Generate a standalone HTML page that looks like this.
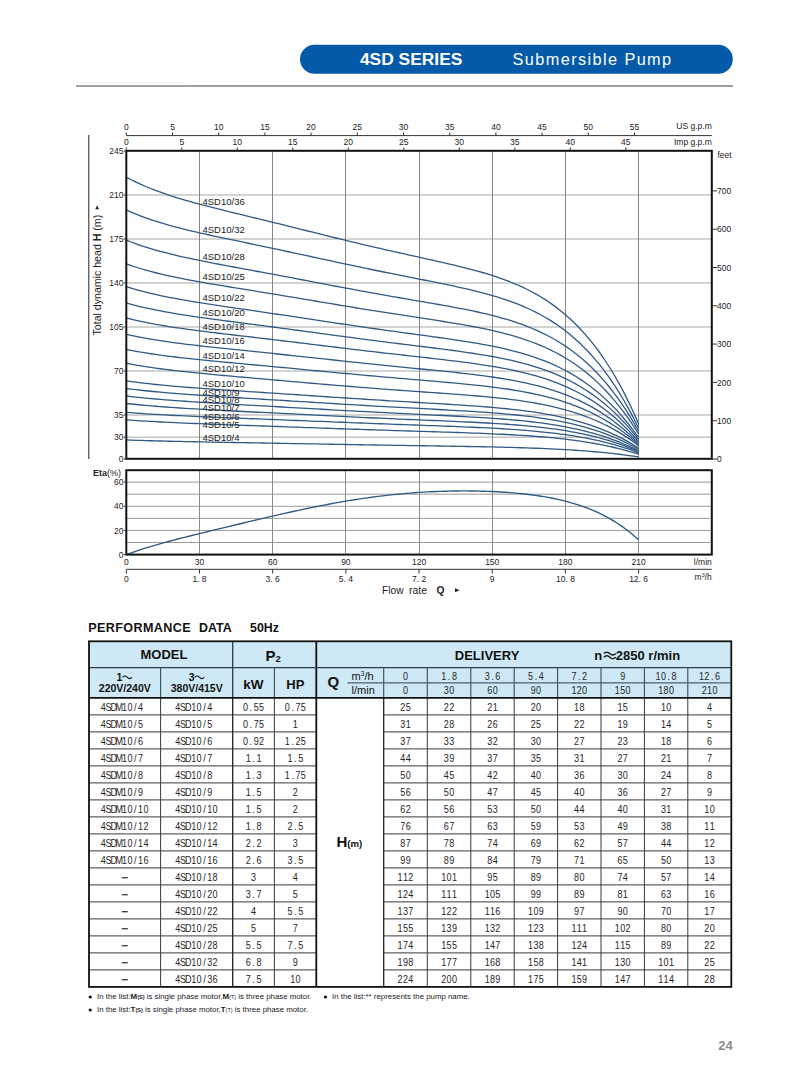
<!DOCTYPE html>
<html><head><meta charset="utf-8"><title>4SD Series</title>
<style>
html,body{margin:0;padding:0;background:#fff;}
body{width:805px;height:1080px;overflow:hidden;position:relative;font-family:"Liberation Sans", sans-serif;}
svg{position:absolute;left:0;top:0;}
svg text{font-family:"Liberation Sans", sans-serif;}
.m{font-family:"Liberation Mono", monospace;}
</style></head><body>
<svg width="805" height="1080" viewBox="0 0 805 1080">

<rect x="300" y="44.8" width="432.8" height="29" rx="14.5" ry="14.5" fill="#0559a9"/>
<text x="359.9" y="65.4" font-size="17.4" font-weight="bold" fill="#fff">4SD SERIES</text>
<text x="512.6" y="65.2" font-size="16.3" letter-spacing="1.4" fill="#fff">Submersible Pump</text>
<rect x="76" y="85" width="657" height="2" fill="#a0a0a0"/>
<line x1="73" y1="82.5" x2="185" y2="82.5" stroke="#f2f2f2" stroke-width="1"/>
<line x1="88.8" y1="135" x2="88.8" y2="459" stroke="#222" stroke-width="1"/>
<line x1="126.3" y1="195.0" x2="711.8" y2="195.0" stroke="#c4c4c4" stroke-width="1.4"/>
<line x1="126.3" y1="239.0" x2="711.8" y2="239.0" stroke="#c4c4c4" stroke-width="1.4"/>
<line x1="126.3" y1="283.0" x2="711.8" y2="283.0" stroke="#c4c4c4" stroke-width="1.4"/>
<line x1="126.3" y1="327.0" x2="711.8" y2="327.0" stroke="#c4c4c4" stroke-width="1.4"/>
<line x1="126.3" y1="371.0" x2="711.8" y2="371.0" stroke="#c4c4c4" stroke-width="1.4"/>
<line x1="126.3" y1="415.0" x2="711.8" y2="415.0" stroke="#c4c4c4" stroke-width="1.4"/>
<line x1="126.3" y1="437.2" x2="711.8" y2="437.2" stroke="#c4c4c4" stroke-width="1.4"/>
<line x1="199.50" y1="150.8" x2="199.50" y2="458.8" stroke="#858585" stroke-width="1"/>
<line x1="272.50" y1="150.8" x2="272.50" y2="458.8" stroke="#858585" stroke-width="1"/>
<line x1="345.50" y1="150.8" x2="345.50" y2="458.8" stroke="#858585" stroke-width="1"/>
<line x1="419.50" y1="150.8" x2="419.50" y2="458.8" stroke="#858585" stroke-width="1"/>
<line x1="492.50" y1="150.8" x2="492.50" y2="458.8" stroke="#858585" stroke-width="1"/>
<line x1="565.50" y1="150.8" x2="565.50" y2="458.8" stroke="#858585" stroke-width="1"/>
<line x1="638.50" y1="150.8" x2="638.50" y2="458.8" stroke="#858585" stroke-width="1"/>
<path d="M126.30,177.20 L131.18,179.74 L136.06,182.13 L140.94,184.38 L145.82,186.50 L150.70,188.49 L155.57,190.39 L160.45,192.18 L165.33,193.89 L170.21,195.52 L175.09,197.08 L179.97,198.58 L184.85,200.03 L189.73,201.43 L194.61,202.78 L199.49,204.11 L204.36,205.40 L209.24,206.67 L214.12,207.91 L219.00,209.14 L223.88,210.36 L228.76,211.56 L233.64,212.76 L238.52,213.96 L243.40,215.15 L248.28,216.33 L253.16,217.52 L258.03,218.71 L262.91,219.90 L267.79,221.10 L272.67,222.29 L277.55,223.49 L282.43,224.70 L287.31,225.90 L292.19,227.11 L297.07,228.32 L301.95,229.54 L306.82,230.75 L311.70,231.96 L316.58,233.17 L321.46,234.38 L326.34,235.59 L331.22,236.80 L336.10,238.00 L340.98,239.19 L345.86,240.38 L350.74,241.56 L355.62,242.73 L360.49,243.90 L365.37,245.06 L370.25,246.20 L375.13,247.34 L380.01,248.47 L384.89,249.59 L389.77,250.70 L394.65,251.80 L399.53,252.89 L404.41,253.98 L409.28,255.06 L414.16,256.14 L419.04,257.21 L423.92,258.29 L428.80,259.37 L433.68,260.45 L438.56,261.54 L443.44,262.65 L448.32,263.77 L453.20,264.91 L458.08,266.08 L462.95,267.28 L467.83,268.51 L472.71,269.79 L477.59,271.12 L482.47,272.50 L487.35,273.96 L492.23,275.48 L497.11,277.09 L501.99,278.78 L506.87,280.58 L511.74,282.50 L516.62,284.53 L521.50,286.71 L526.38,289.03 L531.26,291.51 L536.14,294.17 L541.02,297.02 L545.90,300.08 L550.78,303.36 L555.66,306.88 L560.54,310.65 L565.41,314.70 L570.29,319.05 L575.17,323.71 L580.05,328.71 L584.93,334.06 L589.81,339.79 L594.69,345.93 L599.57,352.50 L604.45,359.52 L609.33,367.02 L614.20,375.02 L619.08,383.56 L623.96,392.66 L628.84,402.36 L633.72,412.68 L638.60,423.66" fill="none" stroke="#2f5a86" stroke-width="1.3"/>
<path d="M126.30,209.89 L131.18,212.07 L136.06,214.12 L140.94,216.04 L145.82,217.85 L150.70,219.56 L155.57,221.17 L160.45,222.70 L165.33,224.15 L170.21,225.54 L175.09,226.87 L179.97,228.14 L184.85,229.37 L189.73,230.56 L194.61,231.71 L199.49,232.83 L204.36,233.93 L209.24,235.00 L214.12,236.06 L219.00,237.11 L223.88,238.14 L228.76,239.17 L233.64,240.19 L238.52,241.21 L243.40,242.23 L248.28,243.25 L253.16,244.27 L258.03,245.29 L262.91,246.31 L267.79,247.34 L272.67,248.37 L277.55,249.40 L282.43,250.44 L287.31,251.49 L292.19,252.53 L297.07,253.58 L301.95,254.64 L306.82,255.69 L311.70,256.75 L316.58,257.80 L321.46,258.86 L326.34,259.91 L331.22,260.97 L336.10,262.02 L340.98,263.07 L345.86,264.11 L350.74,265.15 L355.62,266.18 L360.49,267.21 L365.37,268.23 L370.25,269.24 L375.13,270.25 L380.01,271.25 L384.89,272.24 L389.77,273.23 L394.65,274.21 L399.53,275.18 L404.41,276.15 L409.28,277.11 L414.16,278.08 L419.04,279.04 L423.92,280.01 L428.80,280.97 L433.68,281.95 L438.56,282.93 L443.44,283.93 L448.32,284.94 L453.20,285.97 L458.08,287.03 L462.95,288.11 L467.83,289.23 L472.71,290.39 L477.59,291.59 L482.47,292.84 L487.35,294.16 L492.23,295.54 L497.11,296.99 L501.99,298.53 L506.87,300.15 L511.74,301.88 L516.62,303.72 L521.50,305.68 L526.38,307.78 L531.26,310.02 L536.14,312.41 L541.02,314.98 L545.90,317.73 L550.78,320.67 L555.66,323.83 L560.54,327.22 L565.41,330.85 L570.29,334.75 L575.17,338.92 L580.05,343.40 L584.93,348.19 L589.81,353.31 L594.69,358.80 L599.57,364.66 L604.45,370.93 L609.33,377.62 L614.20,384.76 L619.08,392.38 L623.96,400.49 L628.84,409.13 L633.72,418.33 L638.60,428.10" fill="none" stroke="#2f5a86" stroke-width="1.3"/>
<path d="M126.30,240.06 L131.18,241.99 L136.06,243.81 L140.94,245.52 L145.82,247.13 L150.70,248.64 L155.57,250.08 L160.45,251.44 L165.33,252.73 L170.21,253.96 L175.09,255.14 L179.97,256.28 L184.85,257.37 L189.73,258.42 L194.61,259.45 L199.49,260.45 L204.36,261.42 L209.24,262.38 L214.12,263.32 L219.00,264.25 L223.88,265.17 L228.76,266.08 L233.64,266.99 L238.52,267.89 L243.40,268.79 L248.28,269.69 L253.16,270.59 L258.03,271.50 L262.91,272.40 L267.79,273.31 L272.67,274.22 L277.55,275.14 L282.43,276.05 L287.31,276.97 L292.19,277.90 L297.07,278.82 L301.95,279.75 L306.82,280.68 L311.70,281.61 L316.58,282.54 L321.46,283.46 L326.34,284.39 L331.22,285.32 L336.10,286.24 L340.98,287.16 L345.86,288.07 L350.74,288.98 L355.62,289.89 L360.49,290.79 L365.37,291.68 L370.25,292.57 L375.13,293.45 L380.01,294.32 L384.89,295.18 L389.77,296.05 L394.65,296.90 L399.53,297.75 L404.41,298.59 L409.28,299.43 L414.16,300.27 L419.04,301.11 L423.92,301.95 L428.80,302.79 L433.68,303.63 L438.56,304.49 L443.44,305.35 L448.32,306.23 L453.20,307.12 L458.08,308.04 L462.95,308.98 L467.83,309.95 L472.71,310.95 L477.59,311.99 L482.47,313.08 L487.35,314.22 L492.23,315.42 L497.11,316.68 L501.99,318.01 L506.87,319.42 L511.74,320.93 L516.62,322.52 L521.50,324.23 L526.38,326.05 L531.26,328.00 L536.14,330.08 L541.02,332.32 L545.90,334.71 L550.78,337.28 L555.66,340.03 L560.54,342.99 L565.41,346.16 L570.29,349.56 L575.17,353.20 L580.05,357.11 L584.93,361.30 L589.81,365.78 L594.69,370.57 L599.57,375.70 L604.45,381.18 L609.33,387.03 L614.20,393.28 L619.08,399.95 L623.96,407.05 L628.84,414.61 L633.72,422.67 L638.60,431.23" fill="none" stroke="#2f5a86" stroke-width="1.3"/>
<path d="M126.30,263.94 L131.18,265.65 L136.06,267.25 L140.94,268.75 L145.82,270.16 L150.70,271.49 L155.57,272.75 L160.45,273.94 L165.33,275.08 L170.21,276.16 L175.09,277.19 L179.97,278.18 L184.85,279.14 L189.73,280.06 L194.61,280.96 L199.49,281.83 L204.36,282.69 L209.24,283.52 L214.12,284.35 L219.00,285.16 L223.88,285.97 L228.76,286.76 L233.64,287.56 L238.52,288.35 L243.40,289.14 L248.28,289.93 L253.16,290.72 L258.03,291.52 L262.91,292.31 L267.79,293.11 L272.67,293.91 L277.55,294.72 L282.43,295.52 L287.31,296.33 L292.19,297.15 L297.07,297.96 L301.95,298.78 L306.82,299.60 L311.70,300.42 L316.58,301.24 L321.46,302.06 L326.34,302.88 L331.22,303.70 L336.10,304.51 L340.98,305.32 L345.86,306.13 L350.74,306.94 L355.62,307.74 L360.49,308.54 L365.37,309.33 L370.25,310.12 L375.13,310.90 L380.01,311.67 L384.89,312.44 L389.77,313.20 L394.65,313.96 L399.53,314.72 L404.41,315.47 L409.28,316.22 L414.16,316.96 L419.04,317.71 L423.92,318.46 L428.80,319.21 L433.68,319.96 L438.56,320.72 L443.44,321.49 L448.32,322.28 L453.20,323.07 L458.08,323.89 L462.95,324.73 L467.83,325.60 L472.71,326.50 L477.59,327.43 L482.47,328.40 L487.35,329.42 L492.23,330.49 L497.11,331.62 L501.99,332.82 L506.87,334.08 L511.74,335.42 L516.62,336.86 L521.50,338.38 L526.38,340.01 L531.26,341.75 L536.14,343.62 L541.02,345.62 L545.90,347.76 L550.78,350.06 L555.66,352.52 L560.54,355.16 L565.41,358.00 L570.29,361.04 L575.17,364.29 L580.05,367.79 L584.93,371.52 L589.81,375.53 L594.69,379.81 L599.57,384.39 L604.45,389.29 L609.33,394.52 L614.20,400.10 L619.08,406.05 L623.96,412.39 L628.84,419.14 L633.72,426.33 L638.60,433.97" fill="none" stroke="#2f5a86" stroke-width="1.3"/>
<path d="M126.30,286.57 L131.18,288.10 L136.06,289.53 L140.94,290.87 L145.82,292.14 L150.70,293.34 L155.57,294.47 L160.45,295.54 L165.33,296.56 L170.21,297.53 L175.09,298.46 L179.97,299.35 L184.85,300.21 L189.73,301.05 L194.61,301.85 L199.49,302.64 L204.36,303.41 L209.24,304.17 L214.12,304.91 L219.00,305.64 L223.88,306.37 L228.76,307.09 L233.64,307.80 L238.52,308.52 L243.40,309.23 L248.28,309.94 L253.16,310.65 L258.03,311.37 L262.91,312.08 L267.79,312.80 L272.67,313.52 L277.55,314.25 L282.43,314.97 L287.31,315.70 L292.19,316.43 L297.07,317.16 L301.95,317.89 L306.82,318.63 L311.70,319.36 L316.58,320.10 L321.46,320.83 L326.34,321.57 L331.22,322.30 L336.10,323.03 L340.98,323.76 L345.86,324.48 L350.74,325.20 L355.62,325.92 L360.49,326.63 L365.37,327.34 L370.25,328.04 L375.13,328.74 L380.01,329.43 L384.89,330.12 L389.77,330.80 L394.65,331.48 L399.53,332.15 L404.41,332.82 L409.28,333.49 L414.16,334.15 L419.04,334.82 L423.92,335.48 L428.80,336.15 L433.68,336.82 L438.56,337.50 L443.44,338.18 L448.32,338.88 L453.20,339.59 L458.08,340.32 L462.95,341.06 L467.83,341.83 L472.71,342.63 L477.59,343.45 L482.47,344.32 L487.35,345.22 L492.23,346.17 L497.11,347.17 L501.99,348.22 L506.87,349.34 L511.74,350.53 L516.62,351.80 L521.50,353.15 L526.38,354.59 L531.26,356.13 L536.14,357.78 L541.02,359.54 L545.90,361.44 L550.78,363.47 L555.66,365.64 L560.54,367.98 L565.41,370.48 L570.29,373.17 L575.17,376.04 L580.05,379.13 L584.93,382.43 L589.81,385.96 L594.69,389.75 L599.57,393.79 L604.45,398.12 L609.33,402.74 L614.20,407.66 L619.08,412.92 L623.96,418.52 L628.84,424.49 L633.72,430.83 L638.60,437.58" fill="none" stroke="#2f5a86" stroke-width="1.3"/>
<path d="M126.30,302.91 L131.18,304.28 L136.06,305.56 L140.94,306.77 L145.82,307.90 L150.70,308.97 L155.57,309.98 L160.45,310.93 L165.33,311.84 L170.21,312.71 L175.09,313.54 L179.97,314.34 L184.85,315.11 L189.73,315.85 L194.61,316.57 L199.49,317.27 L204.36,317.96 L209.24,318.63 L214.12,319.29 L219.00,319.95 L223.88,320.59 L228.76,321.24 L233.64,321.87 L238.52,322.51 L243.40,323.15 L248.28,323.78 L253.16,324.42 L258.03,325.06 L262.91,325.70 L267.79,326.34 L272.67,326.99 L277.55,327.63 L282.43,328.28 L287.31,328.94 L292.19,329.59 L297.07,330.25 L301.95,330.91 L306.82,331.57 L311.70,332.23 L316.58,332.89 L321.46,333.55 L326.34,334.21 L331.22,334.87 L336.10,335.52 L340.98,336.18 L345.86,336.83 L350.74,337.48 L355.62,338.13 L360.49,338.77 L365.37,339.41 L370.25,340.04 L375.13,340.67 L380.01,341.30 L384.89,341.92 L389.77,342.53 L394.65,343.15 L399.53,343.76 L404.41,344.36 L409.28,344.97 L414.16,345.57 L419.04,346.17 L423.92,346.77 L428.80,347.38 L433.68,347.99 L438.56,348.60 L443.44,349.23 L448.32,349.86 L453.20,350.50 L458.08,351.16 L462.95,351.84 L467.83,352.54 L472.71,353.26 L477.59,354.02 L482.47,354.80 L487.35,355.62 L492.23,356.49 L497.11,357.40 L501.99,358.36 L506.87,359.38 L511.74,360.46 L516.62,361.61 L521.50,362.84 L526.38,364.15 L531.26,365.55 L536.14,367.05 L541.02,368.65 L545.90,370.37 L550.78,372.22 L555.66,374.20 L560.54,376.32 L565.41,378.59 L570.29,381.03 L575.17,383.64 L580.05,386.44 L584.93,389.44 L589.81,392.65 L594.69,396.09 L599.57,399.76 L604.45,403.68 L609.33,407.87 L614.20,412.34 L619.08,417.11 L623.96,422.19 L628.84,427.61 L633.72,433.36 L638.60,439.48" fill="none" stroke="#2f5a86" stroke-width="1.3"/>
<path d="M126.30,318.00 L131.18,319.23 L136.06,320.37 L140.94,321.45 L145.82,322.47 L150.70,323.42 L155.57,324.33 L160.45,325.19 L165.33,326.00 L170.21,326.78 L175.09,327.52 L179.97,328.23 L184.85,328.92 L189.73,329.58 L194.61,330.23 L199.49,330.86 L204.36,331.47 L209.24,332.07 L214.12,332.67 L219.00,333.25 L223.88,333.83 L228.76,334.41 L233.64,334.98 L238.52,335.55 L243.40,336.12 L248.28,336.69 L253.16,337.26 L258.03,337.84 L262.91,338.41 L267.79,338.99 L272.67,339.57 L277.55,340.15 L282.43,340.74 L287.31,341.32 L292.19,341.91 L297.07,342.51 L301.95,343.10 L306.82,343.69 L311.70,344.29 L316.58,344.89 L321.46,345.48 L326.34,346.08 L331.22,346.67 L336.10,347.27 L340.98,347.86 L345.86,348.45 L350.74,349.04 L355.62,349.62 L360.49,350.20 L365.37,350.78 L370.25,351.35 L375.13,351.92 L380.01,352.49 L384.89,353.05 L389.77,353.61 L394.65,354.17 L399.53,354.72 L404.41,355.27 L409.28,355.82 L414.16,356.37 L419.04,356.92 L423.92,357.47 L428.80,358.02 L433.68,358.57 L438.56,359.13 L443.44,359.70 L448.32,360.28 L453.20,360.87 L458.08,361.47 L462.95,362.09 L467.83,362.72 L472.71,363.38 L477.59,364.07 L482.47,364.78 L487.35,365.53 L492.23,366.32 L497.11,367.15 L501.99,368.03 L506.87,368.95 L511.74,369.94 L516.62,370.99 L521.50,372.10 L526.38,373.30 L531.26,374.57 L536.14,375.93 L541.02,377.39 L545.90,378.96 L550.78,380.63 L555.66,382.43 L560.54,384.36 L565.41,386.42 L570.29,388.63 L575.17,391.00 L580.05,393.54 L584.93,396.26 L589.81,399.17 L594.69,402.29 L599.57,405.62 L604.45,409.17 L609.33,412.97 L614.20,417.02 L619.08,421.34 L623.96,425.94 L628.84,430.84 L633.72,436.06 L638.60,441.60" fill="none" stroke="#2f5a86" stroke-width="1.3"/>
<path d="M126.30,334.34 L131.18,335.43 L136.06,336.45 L140.94,337.41 L145.82,338.31 L150.70,339.16 L155.57,339.96 L160.45,340.72 L165.33,341.44 L170.21,342.13 L175.09,342.79 L179.97,343.42 L184.85,344.03 L189.73,344.62 L194.61,345.19 L199.49,345.75 L204.36,346.30 L209.24,346.83 L214.12,347.36 L219.00,347.88 L223.88,348.39 L228.76,348.90 L233.64,349.41 L238.52,349.92 L243.40,350.42 L248.28,350.93 L253.16,351.43 L258.03,351.94 L262.91,352.45 L267.79,352.96 L272.67,353.47 L277.55,353.99 L282.43,354.51 L287.31,355.02 L292.19,355.55 L297.07,356.07 L301.95,356.59 L306.82,357.12 L311.70,357.64 L316.58,358.17 L321.46,358.70 L326.34,359.22 L331.22,359.75 L336.10,360.27 L340.98,360.79 L345.86,361.31 L350.74,361.83 L355.62,362.35 L360.49,362.86 L365.37,363.37 L370.25,363.87 L375.13,364.37 L380.01,364.87 L384.89,365.37 L389.77,365.86 L394.65,366.35 L399.53,366.83 L404.41,367.32 L409.28,367.80 L414.16,368.28 L419.04,368.76 L423.92,369.24 L428.80,369.73 L433.68,370.21 L438.56,370.71 L443.44,371.20 L448.32,371.71 L453.20,372.22 L458.08,372.75 L462.95,373.29 L467.83,373.85 L472.71,374.43 L477.59,375.03 L482.47,375.66 L487.35,376.32 L492.23,377.01 L497.11,377.74 L501.99,378.51 L506.87,379.32 L511.74,380.19 L516.62,381.11 L521.50,382.09 L526.38,383.14 L531.26,384.26 L536.14,385.46 L541.02,386.74 L545.90,388.11 L550.78,389.59 L555.66,391.17 L560.54,392.87 L565.41,394.68 L570.29,396.63 L575.17,398.72 L580.05,400.96 L584.93,403.36 L589.81,405.92 L594.69,408.67 L599.57,411.60 L604.45,414.74 L609.33,418.09 L614.20,421.66 L619.08,425.47 L623.96,429.53 L628.84,433.85 L633.72,438.45 L638.60,443.34" fill="none" stroke="#2f5a86" stroke-width="1.3"/>
<path d="M126.30,349.43 L131.18,350.40 L136.06,351.32 L140.94,352.17 L145.82,352.98 L150.70,353.74 L155.57,354.47 L160.45,355.15 L165.33,355.80 L170.21,356.42 L175.09,357.01 L179.97,357.58 L184.85,358.13 L189.73,358.66 L194.61,359.18 L199.49,359.68 L204.36,360.17 L209.24,360.65 L214.12,361.12 L219.00,361.59 L223.88,362.05 L228.76,362.51 L233.64,362.97 L238.52,363.42 L243.40,363.87 L248.28,364.32 L253.16,364.77 L258.03,365.23 L262.91,365.68 L267.79,366.13 L272.67,366.59 L277.55,367.05 L282.43,367.51 L287.31,367.97 L292.19,368.43 L297.07,368.89 L301.95,369.35 L306.82,369.81 L311.70,370.28 L316.58,370.74 L321.46,371.20 L326.34,371.67 L331.22,372.13 L336.10,372.59 L340.98,373.04 L345.86,373.50 L350.74,373.95 L355.62,374.40 L360.49,374.85 L365.37,375.29 L370.25,375.73 L375.13,376.17 L380.01,376.60 L384.89,377.03 L389.77,377.46 L394.65,377.88 L399.53,378.30 L404.41,378.72 L409.28,379.14 L414.16,379.55 L419.04,379.96 L423.92,380.38 L428.80,380.79 L433.68,381.21 L438.56,381.63 L443.44,382.06 L448.32,382.49 L453.20,382.93 L458.08,383.39 L462.95,383.85 L467.83,384.33 L472.71,384.82 L477.59,385.34 L482.47,385.87 L487.35,386.44 L492.23,387.03 L497.11,387.65 L501.99,388.31 L506.87,389.01 L511.74,389.75 L516.62,390.54 L521.50,391.39 L526.38,392.29 L531.26,393.26 L536.14,394.29 L541.02,395.40 L545.90,396.59 L550.78,397.86 L555.66,399.23 L560.54,400.70 L565.41,402.27 L570.29,403.96 L575.17,405.78 L580.05,407.72 L584.93,409.80 L589.81,412.03 L594.69,414.42 L599.57,416.97 L604.45,419.70 L609.33,422.62 L614.20,425.73 L619.08,429.05 L623.96,432.59 L628.84,436.36 L633.72,440.38 L638.60,444.64" fill="none" stroke="#2f5a86" stroke-width="1.3"/>
<path d="M126.30,363.26 L131.18,364.18 L136.06,365.06 L140.94,365.88 L145.82,366.66 L150.70,367.39 L155.57,368.09 L160.45,368.75 L165.33,369.39 L170.21,369.99 L175.09,370.57 L179.97,371.13 L184.85,371.67 L189.73,372.19 L194.61,372.69 L199.49,373.18 L204.36,373.66 L209.24,374.13 L214.12,374.59 L219.00,375.05 L223.88,375.50 L228.76,375.94 L233.64,376.38 L238.52,376.82 L243.40,377.25 L248.28,377.68 L253.16,378.11 L258.03,378.54 L262.91,378.97 L267.79,379.40 L272.67,379.83 L277.55,380.26 L282.43,380.68 L287.31,381.11 L292.19,381.53 L297.07,381.96 L301.95,382.38 L306.82,382.81 L311.70,383.23 L316.58,383.65 L321.46,384.07 L326.34,384.48 L331.22,384.89 L336.10,385.30 L340.98,385.71 L345.86,386.11 L350.74,386.51 L355.62,386.91 L360.49,387.30 L365.37,387.69 L370.25,388.07 L375.13,388.45 L380.01,388.82 L384.89,389.19 L389.77,389.55 L394.65,389.91 L399.53,390.26 L404.41,390.62 L409.28,390.96 L414.16,391.31 L419.04,391.65 L423.92,391.99 L428.80,392.34 L433.68,392.68 L438.56,393.02 L443.44,393.37 L448.32,393.72 L453.20,394.07 L458.08,394.44 L462.95,394.81 L467.83,395.19 L472.71,395.59 L477.59,396.00 L482.47,396.43 L487.35,396.88 L492.23,397.35 L497.11,397.86 L501.99,398.39 L506.87,398.95 L511.74,399.55 L516.62,400.19 L521.50,400.88 L526.38,401.61 L531.26,402.40 L536.14,403.24 L541.02,404.15 L545.90,405.13 L550.78,406.18 L555.66,407.32 L560.54,408.53 L565.41,409.84 L570.29,411.25 L575.17,412.77 L580.05,414.39 L584.93,416.14 L589.81,418.01 L594.69,420.02 L599.57,422.17 L604.45,424.48 L609.33,426.95 L614.20,429.58 L619.08,432.40 L623.96,435.41 L628.84,438.61 L633.72,442.03 L638.60,445.67" fill="none" stroke="#2f5a86" stroke-width="1.3"/>
<path d="M126.30,380.86 L131.18,381.56 L136.06,382.21 L140.94,382.83 L145.82,383.41 L150.70,383.96 L155.57,384.48 L160.45,384.97 L165.33,385.43 L170.21,385.88 L175.09,386.31 L179.97,386.72 L184.85,387.11 L189.73,387.49 L194.61,387.86 L199.49,388.22 L204.36,388.57 L209.24,388.91 L214.12,389.25 L219.00,389.59 L223.88,389.92 L228.76,390.24 L233.64,390.57 L238.52,390.89 L243.40,391.21 L248.28,391.53 L253.16,391.86 L258.03,392.18 L262.91,392.50 L267.79,392.82 L272.67,393.14 L277.55,393.47 L282.43,393.79 L287.31,394.12 L292.19,394.44 L297.07,394.77 L301.95,395.10 L306.82,395.43 L311.70,395.75 L316.58,396.08 L321.46,396.40 L326.34,396.73 L331.22,397.05 L336.10,397.38 L340.98,397.70 L345.86,398.02 L350.74,398.33 L355.62,398.65 L360.49,398.96 L365.37,399.27 L370.25,399.58 L375.13,399.88 L380.01,400.19 L384.89,400.48 L389.77,400.78 L394.65,401.08 L399.53,401.37 L404.41,401.66 L409.28,401.95 L414.16,402.23 L419.04,402.52 L423.92,402.80 L428.80,403.09 L433.68,403.38 L438.56,403.67 L443.44,403.96 L448.32,404.26 L453.20,404.57 L458.08,404.88 L462.95,405.20 L467.83,405.53 L472.71,405.87 L477.59,406.22 L482.47,406.59 L487.35,406.98 L492.23,407.39 L497.11,407.82 L501.99,408.28 L506.87,408.77 L511.74,409.28 L516.62,409.83 L521.50,410.42 L526.38,411.05 L531.26,411.72 L536.14,412.45 L541.02,413.22 L545.90,414.05 L550.78,414.95 L555.66,415.91 L560.54,416.94 L565.41,418.04 L570.29,419.23 L575.17,420.51 L580.05,421.88 L584.93,423.34 L589.81,424.91 L594.69,426.60 L599.57,428.40 L604.45,430.33 L609.33,432.39 L614.20,434.59 L619.08,436.94 L623.96,439.44 L628.84,442.11 L633.72,444.95 L638.60,447.97" fill="none" stroke="#2f5a86" stroke-width="1.3"/>
<path d="M126.30,388.40 L131.18,389.05 L136.06,389.65 L140.94,390.23 L145.82,390.77 L150.70,391.27 L155.57,391.76 L160.45,392.21 L165.33,392.65 L170.21,393.07 L175.09,393.46 L179.97,393.85 L184.85,394.21 L189.73,394.57 L194.61,394.92 L199.49,395.25 L204.36,395.58 L209.24,395.90 L214.12,396.22 L219.00,396.53 L223.88,396.84 L228.76,397.15 L233.64,397.45 L238.52,397.75 L243.40,398.05 L248.28,398.35 L253.16,398.65 L258.03,398.95 L262.91,399.25 L267.79,399.55 L272.67,399.85 L277.55,400.15 L282.43,400.45 L287.31,400.75 L292.19,401.06 L297.07,401.36 L301.95,401.66 L306.82,401.96 L311.70,402.26 L316.58,402.56 L321.46,402.86 L326.34,403.16 L331.22,403.46 L336.10,403.76 L340.98,404.05 L345.86,404.35 L350.74,404.64 L355.62,404.92 L360.49,405.21 L365.37,405.49 L370.25,405.78 L375.13,406.05 L380.01,406.33 L384.89,406.60 L389.77,406.87 L394.65,407.14 L399.53,407.41 L404.41,407.67 L409.28,407.93 L414.16,408.19 L419.04,408.45 L423.92,408.71 L428.80,408.97 L433.68,409.23 L438.56,409.49 L443.44,409.76 L448.32,410.03 L453.20,410.30 L458.08,410.58 L462.95,410.87 L467.83,411.16 L472.71,411.47 L477.59,411.79 L482.47,412.12 L487.35,412.47 L492.23,412.84 L497.11,413.22 L501.99,413.63 L506.87,414.07 L511.74,414.53 L516.62,415.02 L521.50,415.55 L526.38,416.12 L531.26,416.72 L536.14,417.37 L541.02,418.06 L545.90,418.81 L550.78,419.61 L555.66,420.47 L560.54,421.39 L565.41,422.39 L570.29,423.45 L575.17,424.60 L580.05,425.83 L584.93,427.15 L589.81,428.56 L594.69,430.07 L599.57,431.69 L604.45,433.42 L609.33,435.28 L614.20,437.25 L619.08,439.37 L623.96,441.62 L628.84,444.02 L633.72,446.57 L638.60,449.29" fill="none" stroke="#2f5a86" stroke-width="1.3"/>
<path d="M126.30,395.94 L131.18,396.53 L136.06,397.09 L140.94,397.61 L145.82,398.10 L150.70,398.57 L155.57,399.01 L160.45,399.43 L165.33,399.83 L170.21,400.21 L175.09,400.58 L179.97,400.93 L184.85,401.27 L189.73,401.60 L194.61,401.92 L199.49,402.23 L204.36,402.53 L209.24,402.83 L214.12,403.12 L219.00,403.41 L223.88,403.69 L228.76,403.98 L233.64,404.26 L238.52,404.53 L243.40,404.81 L248.28,405.09 L253.16,405.36 L258.03,405.64 L262.91,405.91 L267.79,406.19 L272.67,406.47 L277.55,406.74 L282.43,407.02 L287.31,407.30 L292.19,407.57 L297.07,407.85 L301.95,408.13 L306.82,408.40 L311.70,408.68 L316.58,408.96 L321.46,409.23 L326.34,409.50 L331.22,409.78 L336.10,410.05 L340.98,410.32 L345.86,410.58 L350.74,410.85 L355.62,411.11 L360.49,411.37 L365.37,411.63 L370.25,411.89 L375.13,412.14 L380.01,412.39 L384.89,412.64 L389.77,412.89 L394.65,413.13 L399.53,413.37 L404.41,413.61 L409.28,413.85 L414.16,414.09 L419.04,414.32 L423.92,414.56 L428.80,414.79 L433.68,415.03 L438.56,415.27 L443.44,415.51 L448.32,415.75 L453.20,416.00 L458.08,416.25 L462.95,416.51 L467.83,416.78 L472.71,417.05 L477.59,417.34 L482.47,417.64 L487.35,417.95 L492.23,418.28 L497.11,418.63 L501.99,419.00 L506.87,419.39 L511.74,419.80 L516.62,420.24 L521.50,420.71 L526.38,421.22 L531.26,421.76 L536.14,422.34 L541.02,422.96 L545.90,423.63 L550.78,424.34 L555.66,425.11 L560.54,425.94 L565.41,426.82 L570.29,427.77 L575.17,428.80 L580.05,429.89 L584.93,431.07 L589.81,432.33 L594.69,433.68 L599.57,435.12 L604.45,436.67 L609.33,438.32 L614.20,440.09 L619.08,441.97 L623.96,443.98 L628.84,446.12 L633.72,448.40 L638.60,450.83" fill="none" stroke="#2f5a86" stroke-width="1.3"/>
<path d="M126.30,403.49 L131.18,404.02 L136.06,404.51 L140.94,404.98 L145.82,405.43 L150.70,405.85 L155.57,406.25 L160.45,406.62 L165.33,406.98 L170.21,407.33 L175.09,407.66 L179.97,407.98 L184.85,408.29 L189.73,408.58 L194.61,408.87 L199.49,409.15 L204.36,409.43 L209.24,409.70 L214.12,409.96 L219.00,410.22 L223.88,410.48 L228.76,410.73 L233.64,410.98 L238.52,411.23 L243.40,411.48 L248.28,411.73 L253.16,411.98 L258.03,412.23 L262.91,412.47 L267.79,412.72 L272.67,412.97 L277.55,413.21 L282.43,413.46 L287.31,413.71 L292.19,413.95 L297.07,414.20 L301.95,414.45 L306.82,414.69 L311.70,414.94 L316.58,415.18 L321.46,415.43 L326.34,415.67 L331.22,415.91 L336.10,416.15 L340.98,416.39 L345.86,416.62 L350.74,416.86 L355.62,417.09 L360.49,417.32 L365.37,417.55 L370.25,417.77 L375.13,417.99 L380.01,418.21 L384.89,418.43 L389.77,418.64 L394.65,418.86 L399.53,419.07 L404.41,419.28 L409.28,419.48 L414.16,419.69 L419.04,419.89 L423.92,420.10 L428.80,420.30 L433.68,420.50 L438.56,420.71 L443.44,420.92 L448.32,421.13 L453.20,421.34 L458.08,421.56 L462.95,421.78 L467.83,422.01 L472.71,422.25 L477.59,422.50 L482.47,422.75 L487.35,423.02 L492.23,423.31 L497.11,423.60 L501.99,423.92 L506.87,424.26 L511.74,424.61 L516.62,425.00 L521.50,425.40 L526.38,425.84 L531.26,426.30 L536.14,426.81 L541.02,427.34 L545.90,427.92 L550.78,428.54 L555.66,429.21 L560.54,429.93 L565.41,430.70 L570.29,431.52 L575.17,432.41 L580.05,433.37 L584.93,434.39 L589.81,435.49 L594.69,436.67 L599.57,437.93 L604.45,439.27 L609.33,440.72 L614.20,442.26 L619.08,443.90 L623.96,445.66 L628.84,447.53 L633.72,449.52 L638.60,451.64" fill="none" stroke="#2f5a86" stroke-width="1.3"/>
<path d="M126.30,412.29 L131.18,412.70 L136.06,413.08 L140.94,413.44 L145.82,413.79 L150.70,414.11 L155.57,414.41 L160.45,414.70 L165.33,414.97 L170.21,415.23 L175.09,415.48 L179.97,415.72 L184.85,415.96 L189.73,416.18 L194.61,416.40 L199.49,416.61 L204.36,416.81 L209.24,417.02 L214.12,417.22 L219.00,417.41 L223.88,417.61 L228.76,417.80 L233.64,417.99 L238.52,418.18 L243.40,418.37 L248.28,418.56 L253.16,418.75 L258.03,418.94 L262.91,419.14 L267.79,419.33 L272.67,419.52 L277.55,419.71 L282.43,419.91 L287.31,420.10 L292.19,420.30 L297.07,420.49 L301.95,420.69 L306.82,420.88 L311.70,421.08 L316.58,421.28 L321.46,421.47 L326.34,421.67 L331.22,421.86 L336.10,422.06 L340.98,422.25 L345.86,422.44 L350.74,422.64 L355.62,422.83 L360.49,423.02 L365.37,423.21 L370.25,423.39 L375.13,423.58 L380.01,423.76 L384.89,423.94 L389.77,424.13 L394.65,424.31 L399.53,424.48 L404.41,424.66 L409.28,424.84 L414.16,425.02 L419.04,425.19 L423.92,425.37 L428.80,425.55 L433.68,425.72 L438.56,425.90 L443.44,426.08 L448.32,426.27 L453.20,426.46 L458.08,426.65 L462.95,426.85 L467.83,427.05 L472.71,427.26 L477.59,427.48 L482.47,427.71 L487.35,427.95 L492.23,428.21 L497.11,428.47 L501.99,428.75 L506.87,429.05 L511.74,429.37 L516.62,429.71 L521.50,430.07 L526.38,430.45 L531.26,430.86 L536.14,431.31 L541.02,431.78 L545.90,432.29 L550.78,432.83 L555.66,433.41 L560.54,434.04 L565.41,434.71 L570.29,435.43 L575.17,436.20 L580.05,437.03 L584.93,437.92 L589.81,438.87 L594.69,439.89 L599.57,440.98 L604.45,442.14 L609.33,443.38 L614.20,444.71 L619.08,446.12 L623.96,447.63 L628.84,449.24 L633.72,450.95 L638.60,452.77" fill="none" stroke="#2f5a86" stroke-width="1.3"/>
<path d="M126.30,419.83 L131.18,420.19 L136.06,420.53 L140.94,420.86 L145.82,421.16 L150.70,421.45 L155.57,421.72 L160.45,421.98 L165.33,422.22 L170.21,422.46 L175.09,422.69 L179.97,422.90 L184.85,423.11 L189.73,423.32 L194.61,423.51 L199.49,423.71 L204.36,423.89 L209.24,424.08 L214.12,424.26 L219.00,424.44 L223.88,424.61 L228.76,424.79 L233.64,424.96 L238.52,425.13 L243.40,425.31 L248.28,425.48 L253.16,425.65 L258.03,425.82 L262.91,425.99 L267.79,426.16 L272.67,426.34 L277.55,426.51 L282.43,426.68 L287.31,426.85 L292.19,427.03 L297.07,427.20 L301.95,427.37 L306.82,427.55 L311.70,427.72 L316.58,427.89 L321.46,428.06 L326.34,428.24 L331.22,428.41 L336.10,428.58 L340.98,428.75 L345.86,428.92 L350.74,429.08 L355.62,429.25 L360.49,429.41 L365.37,429.58 L370.25,429.74 L375.13,429.90 L380.01,430.06 L384.89,430.21 L389.77,430.37 L394.65,430.53 L399.53,430.68 L404.41,430.83 L409.28,430.98 L414.16,431.13 L419.04,431.28 L423.92,431.43 L428.80,431.58 L433.68,431.73 L438.56,431.89 L443.44,432.04 L448.32,432.19 L453.20,432.35 L458.08,432.51 L462.95,432.68 L467.83,432.85 L472.71,433.03 L477.59,433.21 L482.47,433.40 L487.35,433.60 L492.23,433.81 L497.11,434.03 L501.99,434.26 L506.87,434.51 L511.74,434.77 L516.62,435.05 L521.50,435.35 L526.38,435.67 L531.26,436.01 L536.14,436.38 L541.02,436.77 L545.90,437.19 L550.78,437.64 L555.66,438.12 L560.54,438.64 L565.41,439.20 L570.29,439.80 L575.17,440.44 L580.05,441.12 L584.93,441.86 L589.81,442.65 L594.69,443.49 L599.57,444.40 L604.45,445.36 L609.33,446.40 L614.20,447.50 L619.08,448.67 L623.96,449.93 L628.84,451.26 L633.72,452.69 L638.60,454.20" fill="none" stroke="#2f5a86" stroke-width="1.3"/>
<path d="M126.30,439.94 L131.18,440.12 L136.06,440.29 L140.94,440.45 L145.82,440.60 L150.70,440.74 L155.57,440.88 L160.45,441.00 L165.33,441.13 L170.21,441.24 L175.09,441.36 L179.97,441.46 L184.85,441.57 L189.73,441.67 L194.61,441.77 L199.49,441.87 L204.36,441.96 L209.24,442.05 L214.12,442.14 L219.00,442.23 L223.88,442.32 L228.76,442.41 L233.64,442.50 L238.52,442.58 L243.40,442.67 L248.28,442.76 L253.16,442.84 L258.03,442.93 L262.91,443.01 L267.79,443.10 L272.67,443.19 L277.55,443.27 L282.43,443.36 L287.31,443.45 L292.19,443.53 L297.07,443.62 L301.95,443.71 L306.82,443.80 L311.70,443.88 L316.58,443.97 L321.46,444.06 L326.34,444.14 L331.22,444.23 L336.10,444.32 L340.98,444.40 L345.86,444.49 L350.74,444.57 L355.62,444.65 L360.49,444.74 L365.37,444.82 L370.25,444.90 L375.13,444.98 L380.01,445.06 L384.89,445.14 L389.77,445.22 L394.65,445.30 L399.53,445.38 L404.41,445.45 L409.28,445.53 L414.16,445.61 L419.04,445.68 L423.92,445.76 L428.80,445.84 L433.68,445.91 L438.56,445.99 L443.44,446.07 L448.32,446.15 L453.20,446.23 L458.08,446.31 L462.95,446.39 L467.83,446.48 L472.71,446.57 L477.59,446.66 L482.47,446.76 L487.35,446.86 L492.23,446.96 L497.11,447.07 L501.99,447.19 L506.87,447.31 L511.74,447.44 L516.62,447.58 L521.50,447.73 L526.38,447.89 L531.26,448.06 L536.14,448.24 L541.02,448.43 L545.90,448.64 L550.78,448.86 L555.66,449.10 L560.54,449.35 L565.41,449.63 L570.29,449.92 L575.17,450.23 L580.05,450.57 L584.93,450.93 L589.81,451.32 L594.69,451.73 L599.57,452.17 L604.45,452.64 L609.33,453.14 L614.20,453.68 L619.08,454.25 L623.96,454.87 L628.84,455.52 L633.72,456.21 L638.60,456.94" fill="none" stroke="#2f5a86" stroke-width="1.3"/>
<text x="202.5" y="205.4" font-size="9.5" fill="#222">4SD10/36</text>
<text x="202.5" y="233.4" font-size="9.5" fill="#222">4SD10/32</text>
<text x="202.5" y="260.4" font-size="9.5" fill="#222">4SD10/28</text>
<text x="202.5" y="280.4" font-size="9.5" fill="#222">4SD10/25</text>
<text x="202.5" y="301.4" font-size="9.5" fill="#222">4SD10/22</text>
<text x="202.5" y="316.4" font-size="9.5" fill="#222">4SD10/20</text>
<text x="202.5" y="329.9" font-size="9.5" fill="#222">4SD10/18</text>
<text x="202.5" y="344.4" font-size="9.5" fill="#222">4SD10/16</text>
<text x="202.5" y="359.4" font-size="9.5" fill="#222">4SD10/14</text>
<text x="202.5" y="371.9" font-size="9.5" fill="#222">4SD10/12</text>
<text x="202.5" y="386.9" font-size="9.5" fill="#222">4SD10/10</text>
<text x="202.5" y="395.9" font-size="9.5" fill="#222">4SD10/9</text>
<text x="202.5" y="402.9" font-size="9.5" fill="#222">4SD10/8</text>
<text x="202.5" y="411.4" font-size="9.5" fill="#222">4SD10/7</text>
<text x="202.5" y="419.9" font-size="9.5" fill="#222">4SD10/6</text>
<text x="202.5" y="427.9" font-size="9.5" fill="#222">4SD10/5</text>
<text x="202.5" y="440.7" font-size="9.5" fill="#222">4SD10/4</text>
<rect x="126.3" y="150.8" width="585.50" height="308.00" fill="none" stroke="#111" stroke-width="2"/>
<line x1="126.3" y1="135.6" x2="711.8" y2="135.6" stroke="#333" stroke-width="1"/>
<line x1="126.30" y1="132.5" x2="126.30" y2="135.6" stroke="#333" stroke-width="1"/>
<text x="126.30" y="130.3" font-size="8.5" text-anchor="middle" fill="#222">0</text>
<line x1="172.50" y1="132.5" x2="172.50" y2="135.6" stroke="#333" stroke-width="1"/>
<text x="172.50" y="130.3" font-size="8.5" text-anchor="middle" fill="#222">5</text>
<line x1="218.70" y1="132.5" x2="218.70" y2="135.6" stroke="#333" stroke-width="1"/>
<text x="218.70" y="130.3" font-size="8.5" text-anchor="middle" fill="#222">10</text>
<line x1="264.90" y1="132.5" x2="264.90" y2="135.6" stroke="#333" stroke-width="1"/>
<text x="264.90" y="130.3" font-size="8.5" text-anchor="middle" fill="#222">15</text>
<line x1="311.10" y1="132.5" x2="311.10" y2="135.6" stroke="#333" stroke-width="1"/>
<text x="311.10" y="130.3" font-size="8.5" text-anchor="middle" fill="#222">20</text>
<line x1="357.30" y1="132.5" x2="357.30" y2="135.6" stroke="#333" stroke-width="1"/>
<text x="357.30" y="130.3" font-size="8.5" text-anchor="middle" fill="#222">25</text>
<line x1="403.50" y1="132.5" x2="403.50" y2="135.6" stroke="#333" stroke-width="1"/>
<text x="403.50" y="130.3" font-size="8.5" text-anchor="middle" fill="#222">30</text>
<line x1="449.70" y1="132.5" x2="449.70" y2="135.6" stroke="#333" stroke-width="1"/>
<text x="449.70" y="130.3" font-size="8.5" text-anchor="middle" fill="#222">35</text>
<line x1="495.90" y1="132.5" x2="495.90" y2="135.6" stroke="#333" stroke-width="1"/>
<text x="495.90" y="130.3" font-size="8.5" text-anchor="middle" fill="#222">40</text>
<line x1="542.10" y1="132.5" x2="542.10" y2="135.6" stroke="#333" stroke-width="1"/>
<text x="542.10" y="130.3" font-size="8.5" text-anchor="middle" fill="#222">45</text>
<line x1="588.30" y1="132.5" x2="588.30" y2="135.6" stroke="#333" stroke-width="1"/>
<text x="588.30" y="130.3" font-size="8.5" text-anchor="middle" fill="#222">50</text>
<line x1="634.50" y1="132.5" x2="634.50" y2="135.6" stroke="#333" stroke-width="1"/>
<text x="634.50" y="130.3" font-size="8.5" text-anchor="middle" fill="#222">55</text>
<line x1="126.30" y1="147.5" x2="126.30" y2="150.8" stroke="#333" stroke-width="1"/>
<text x="126.30" y="145.4" font-size="8.5" text-anchor="middle" fill="#222">0</text>
<line x1="181.80" y1="147.5" x2="181.80" y2="150.8" stroke="#333" stroke-width="1"/>
<text x="181.80" y="145.4" font-size="8.5" text-anchor="middle" fill="#222">5</text>
<line x1="237.30" y1="147.5" x2="237.30" y2="150.8" stroke="#333" stroke-width="1"/>
<text x="237.30" y="145.4" font-size="8.5" text-anchor="middle" fill="#222">10</text>
<line x1="292.80" y1="147.5" x2="292.80" y2="150.8" stroke="#333" stroke-width="1"/>
<text x="292.80" y="145.4" font-size="8.5" text-anchor="middle" fill="#222">15</text>
<line x1="348.30" y1="147.5" x2="348.30" y2="150.8" stroke="#333" stroke-width="1"/>
<text x="348.30" y="145.4" font-size="8.5" text-anchor="middle" fill="#222">20</text>
<line x1="403.80" y1="147.5" x2="403.80" y2="150.8" stroke="#333" stroke-width="1"/>
<text x="403.80" y="145.4" font-size="8.5" text-anchor="middle" fill="#222">25</text>
<line x1="459.30" y1="147.5" x2="459.30" y2="150.8" stroke="#333" stroke-width="1"/>
<text x="459.30" y="145.4" font-size="8.5" text-anchor="middle" fill="#222">30</text>
<line x1="514.80" y1="147.5" x2="514.80" y2="150.8" stroke="#333" stroke-width="1"/>
<text x="514.80" y="145.4" font-size="8.5" text-anchor="middle" fill="#222">35</text>
<line x1="570.30" y1="147.5" x2="570.30" y2="150.8" stroke="#333" stroke-width="1"/>
<text x="570.30" y="145.4" font-size="8.5" text-anchor="middle" fill="#222">40</text>
<line x1="625.80" y1="147.5" x2="625.80" y2="150.8" stroke="#333" stroke-width="1"/>
<text x="625.80" y="145.4" font-size="8.5" text-anchor="middle" fill="#222">45</text>
<text x="711.8" y="129.3" font-size="8.5" text-anchor="end" fill="#222">US g.p.m</text>
<text x="711.8" y="144.6" font-size="8.5" text-anchor="end" fill="#222">Imp g.p.m</text>
<text x="123.5" y="154.1" font-size="8.5" text-anchor="end" fill="#222">245</text>
<line x1="123.6" y1="151" x2="126.3" y2="151" stroke="#333" stroke-width="1"/>
<text x="123.5" y="198.1" font-size="8.5" text-anchor="end" fill="#222">210</text>
<line x1="123.6" y1="195" x2="126.3" y2="195" stroke="#333" stroke-width="1"/>
<text x="123.5" y="242.1" font-size="8.5" text-anchor="end" fill="#222">175</text>
<line x1="123.6" y1="239" x2="126.3" y2="239" stroke="#333" stroke-width="1"/>
<text x="123.5" y="286.1" font-size="8.5" text-anchor="end" fill="#222">140</text>
<line x1="123.6" y1="283" x2="126.3" y2="283" stroke="#333" stroke-width="1"/>
<text x="123.5" y="330.1" font-size="8.5" text-anchor="end" fill="#222">105</text>
<line x1="123.6" y1="327" x2="126.3" y2="327" stroke="#333" stroke-width="1"/>
<text x="123.5" y="374.1" font-size="8.5" text-anchor="end" fill="#222">70</text>
<line x1="123.6" y1="371" x2="126.3" y2="371" stroke="#333" stroke-width="1"/>
<text x="123.5" y="418.1" font-size="8.5" text-anchor="end" fill="#222">35</text>
<line x1="123.6" y1="415" x2="126.3" y2="415" stroke="#333" stroke-width="1"/>
<text x="123.5" y="440.3" font-size="8.5" text-anchor="end" fill="#222">30</text>
<line x1="123.6" y1="437.2" x2="126.3" y2="437.2" stroke="#333" stroke-width="1"/>
<text x="123.5" y="462.1" font-size="8.5" text-anchor="end" fill="#222">0</text>
<line x1="123.6" y1="459" x2="126.3" y2="459" stroke="#333" stroke-width="1"/>
<text x="717.5" y="158.2" font-size="8.5" fill="#222">feet</text>
<line x1="711.8" y1="459.0" x2="717.2" y2="459.0" stroke="#333" stroke-width="1"/>
<text x="717.0" y="462.1" font-size="8.5" fill="#222">0</text>
<line x1="711.8" y1="420.7" x2="717.2" y2="420.7" stroke="#333" stroke-width="1"/>
<text x="717.0" y="423.8" font-size="8.5" fill="#222">100</text>
<line x1="711.8" y1="382.4" x2="717.2" y2="382.4" stroke="#333" stroke-width="1"/>
<text x="717.0" y="385.5" font-size="8.5" fill="#222">200</text>
<line x1="711.8" y1="344.1" x2="717.2" y2="344.1" stroke="#333" stroke-width="1"/>
<text x="717.0" y="347.2" font-size="8.5" fill="#222">300</text>
<line x1="711.8" y1="305.8" x2="717.2" y2="305.8" stroke="#333" stroke-width="1"/>
<text x="717.0" y="308.9" font-size="8.5" fill="#222">400</text>
<line x1="711.8" y1="267.5" x2="717.2" y2="267.5" stroke="#333" stroke-width="1"/>
<text x="717.0" y="270.6" font-size="8.5" fill="#222">500</text>
<line x1="711.8" y1="229.2" x2="717.2" y2="229.2" stroke="#333" stroke-width="1"/>
<text x="717.0" y="232.3" font-size="8.5" fill="#222">600</text>
<line x1="711.8" y1="190.9" x2="717.2" y2="190.9" stroke="#333" stroke-width="1"/>
<text x="717.0" y="194.0" font-size="8.5" fill="#222">700</text>
<text transform="translate(101,335.5) rotate(-90)" font-size="10.6" fill="#222">Total dynamic head <tspan font-weight="bold">H</tspan> (m)</text>
<path d="M95.3,209.3 L97.2,205.2 L99.1,209.3 Z" fill="#222"/>
<line x1="126.3" y1="542.52" x2="711.8" y2="542.52" stroke="#9a9a9a" stroke-width="1"/>
<line x1="126.3" y1="530.43" x2="711.8" y2="530.43" stroke="#9a9a9a" stroke-width="1"/>
<line x1="126.3" y1="518.35" x2="711.8" y2="518.35" stroke="#9a9a9a" stroke-width="1"/>
<line x1="126.3" y1="506.27" x2="711.8" y2="506.27" stroke="#9a9a9a" stroke-width="1"/>
<line x1="126.3" y1="494.18" x2="711.8" y2="494.18" stroke="#9a9a9a" stroke-width="1"/>
<line x1="126.3" y1="482.1" x2="711.8" y2="482.1" stroke="#9a9a9a" stroke-width="1"/>
<line x1="199.50" y1="470.2" x2="199.50" y2="554.6" stroke="#8a8a8a" stroke-width="1"/>
<line x1="272.50" y1="470.2" x2="272.50" y2="554.6" stroke="#8a8a8a" stroke-width="1"/>
<line x1="345.50" y1="470.2" x2="345.50" y2="554.6" stroke="#8a8a8a" stroke-width="1"/>
<line x1="419.50" y1="470.2" x2="419.50" y2="554.6" stroke="#8a8a8a" stroke-width="1"/>
<line x1="492.50" y1="470.2" x2="492.50" y2="554.6" stroke="#8a8a8a" stroke-width="1"/>
<line x1="565.50" y1="470.2" x2="565.50" y2="554.6" stroke="#8a8a8a" stroke-width="1"/>
<line x1="638.50" y1="470.2" x2="638.50" y2="554.6" stroke="#8a8a8a" stroke-width="1"/>
<path d="M126.30,554.60 L130.60,553.02 L134.91,551.52 L139.21,550.07 L143.52,548.69 L147.82,547.35 L152.13,546.06 L156.43,544.81 L160.73,543.60 L165.04,542.41 L169.34,541.25 L173.65,540.12 L177.95,539.00 L182.25,537.90 L186.56,536.81 L190.86,535.73 L195.17,534.67 L199.47,533.61 L203.78,532.55 L208.08,531.51 L212.38,530.46 L216.69,529.42 L220.99,528.38 L225.30,527.34 L229.60,526.31 L233.91,525.28 L238.21,524.25 L242.51,523.22 L246.82,522.19 L251.12,521.17 L255.43,520.15 L259.73,519.14 L264.03,518.13 L268.34,517.13 L272.64,516.13 L276.95,515.14 L281.25,514.16 L285.56,513.19 L289.86,512.23 L294.16,511.28 L298.47,510.34 L302.77,509.42 L307.08,508.51 L311.38,507.62 L315.68,506.75 L319.99,505.89 L324.29,505.05 L328.60,504.22 L332.90,503.42 L337.21,502.64 L341.51,501.88 L345.81,501.15 L350.12,500.43 L354.42,499.74 L358.73,499.07 L363.03,498.43 L367.34,497.81 L371.64,497.22 L375.94,496.65 L380.25,496.11 L384.55,495.60 L388.86,495.11 L393.16,494.65 L397.46,494.22 L401.77,493.81 L406.07,493.43 L410.38,493.07 L414.68,492.75 L418.99,492.45 L423.29,492.17 L427.59,491.93 L431.90,491.71 L436.20,491.52 L440.51,491.35 L444.81,491.22 L449.12,491.10 L453.42,491.02 L457.72,490.96 L462.03,490.94 L466.33,490.93 L470.64,490.96 L474.94,491.02 L479.24,491.10 L483.55,491.21 L487.85,491.36 L492.16,491.54 L496.46,491.74 L500.77,491.99 L505.07,492.26 L509.37,492.58 L513.68,492.93 L517.98,493.32 L522.29,493.76 L526.59,494.24 L530.89,494.77 L535.20,495.35 L539.50,495.99 L543.81,496.68 L548.11,497.44 L552.42,498.27 L556.72,499.16 L561.02,500.13 L565.33,501.19 L569.63,502.33 L573.94,503.57 L578.24,504.92 L582.55,506.37 L586.85,507.94 L591.15,509.63 L595.46,511.46 L599.76,513.44 L604.07,515.57 L608.37,517.87 L612.67,520.35 L616.98,523.02 L621.28,525.90 L625.59,528.99 L629.89,532.31 L634.20,535.89 L638.50,539.73" fill="none" stroke="#2f5a86" stroke-width="1.35"/>
<rect x="126.3" y="470.2" width="585.50" height="84.40" fill="none" stroke="#111" stroke-width="2"/>
<text x="93" y="475.5" font-size="9" fill="#222"><tspan font-weight="bold">Eta</tspan>(%)</text>
<text x="123.5" y="485.2" font-size="8.5" text-anchor="end" fill="#222">60</text>
<line x1="123.6" y1="482.10" x2="126.3" y2="482.10" stroke="#333" stroke-width="1"/>
<text x="123.5" y="509.4" font-size="8.5" text-anchor="end" fill="#222">40</text>
<line x1="123.6" y1="506.27" x2="126.3" y2="506.27" stroke="#333" stroke-width="1"/>
<text x="123.5" y="533.5" font-size="8.5" text-anchor="end" fill="#222">20</text>
<line x1="123.6" y1="530.43" x2="126.3" y2="530.43" stroke="#333" stroke-width="1"/>
<text x="123.5" y="557.7" font-size="8.5" text-anchor="end" fill="#222">0</text>
<line x1="123.6" y1="554.60" x2="126.3" y2="554.60" stroke="#333" stroke-width="1"/>
<text x="126.30" y="564.5" font-size="8.5" text-anchor="middle" fill="#222">0</text>
<text x="199.49" y="564.5" font-size="8.5" text-anchor="middle" fill="#222">30</text>
<text x="272.67" y="564.5" font-size="8.5" text-anchor="middle" fill="#222">60</text>
<text x="345.86" y="564.5" font-size="8.5" text-anchor="middle" fill="#222">90</text>
<text x="419.04" y="564.5" font-size="8.5" text-anchor="middle" fill="#222">120</text>
<text x="492.23" y="564.5" font-size="8.5" text-anchor="middle" fill="#222">150</text>
<text x="565.41" y="564.5" font-size="8.5" text-anchor="middle" fill="#222">180</text>
<text x="638.60" y="564.5" font-size="8.5" text-anchor="middle" fill="#222">210</text>
<text x="711.8" y="565.2" font-size="8.5" text-anchor="end" fill="#222">l/min</text>
<line x1="126.3" y1="569.3" x2="711.8" y2="569.3" stroke="#333" stroke-width="1"/>
<line x1="126.30" y1="569.3" x2="126.30" y2="573.5" stroke="#333" stroke-width="1"/>
<text x="126.30" y="581.5" font-size="8.5" text-anchor="middle" fill="#222">0</text>
<line x1="199.49" y1="569.3" x2="199.49" y2="573.5" stroke="#333" stroke-width="1"/>
<text x="199.49" y="581.5" font-size="8.5" text-anchor="middle" fill="#222">1. 8</text>
<line x1="272.67" y1="569.3" x2="272.67" y2="573.5" stroke="#333" stroke-width="1"/>
<text x="272.67" y="581.5" font-size="8.5" text-anchor="middle" fill="#222">3. 6</text>
<line x1="345.86" y1="569.3" x2="345.86" y2="573.5" stroke="#333" stroke-width="1"/>
<text x="345.86" y="581.5" font-size="8.5" text-anchor="middle" fill="#222">5. 4</text>
<line x1="419.04" y1="569.3" x2="419.04" y2="573.5" stroke="#333" stroke-width="1"/>
<text x="419.04" y="581.5" font-size="8.5" text-anchor="middle" fill="#222">7. 2</text>
<line x1="492.23" y1="569.3" x2="492.23" y2="573.5" stroke="#333" stroke-width="1"/>
<text x="492.23" y="581.5" font-size="8.5" text-anchor="middle" fill="#222">9</text>
<line x1="565.41" y1="569.3" x2="565.41" y2="573.5" stroke="#333" stroke-width="1"/>
<text x="565.41" y="581.5" font-size="8.5" text-anchor="middle" fill="#222">10. 8</text>
<line x1="638.60" y1="569.3" x2="638.60" y2="573.5" stroke="#333" stroke-width="1"/>
<text x="638.60" y="581.5" font-size="8.5" text-anchor="middle" fill="#222">12. 6</text>
<text x="711.8" y="580.3" font-size="8.5" text-anchor="end" fill="#222">m<tspan font-size="5.5" dy="-3">3</tspan><tspan dy="3">/h</tspan></text>
<text x="382" y="593.8" font-size="10.2" fill="#222">Flow</text><text x="409" y="593.8" font-size="10.4" fill="#222">rate</text><text x="436.5" y="593.8" font-size="10.2" font-weight="bold" fill="#222">Q</text>
<path d="M455,588.3 L459.6,590.3 L455,592.3 Z" fill="#222"/>
<text x="88.2" y="632.2" font-size="12.6" letter-spacing="0.38" font-weight="bold" fill="#111">PERFORMANCE</text>
<text x="199.1" y="632.2" font-size="12.4" font-weight="bold" fill="#111">DATA</text>
<text x="250" y="632.2" font-size="12.4" font-weight="bold" fill="#111">50Hz</text>
<rect x="89.0" y="641.3" width="642.3" height="56.6" fill="#cee9f5"/>
<line x1="89.0" y1="714.90" x2="316.3" y2="714.90" stroke="#3a3a3a" stroke-width="1"/>
<line x1="383.7" y1="714.90" x2="731.3" y2="714.90" stroke="#3a3a3a" stroke-width="1"/>
<line x1="89.0" y1="731.90" x2="316.3" y2="731.90" stroke="#3a3a3a" stroke-width="1"/>
<line x1="383.7" y1="731.90" x2="731.3" y2="731.90" stroke="#3a3a3a" stroke-width="1"/>
<line x1="89.0" y1="748.90" x2="316.3" y2="748.90" stroke="#3a3a3a" stroke-width="1"/>
<line x1="383.7" y1="748.90" x2="731.3" y2="748.90" stroke="#3a3a3a" stroke-width="1"/>
<line x1="89.0" y1="765.90" x2="316.3" y2="765.90" stroke="#3a3a3a" stroke-width="1"/>
<line x1="383.7" y1="765.90" x2="731.3" y2="765.90" stroke="#3a3a3a" stroke-width="1"/>
<line x1="89.0" y1="782.90" x2="316.3" y2="782.90" stroke="#3a3a3a" stroke-width="1"/>
<line x1="383.7" y1="782.90" x2="731.3" y2="782.90" stroke="#3a3a3a" stroke-width="1"/>
<line x1="89.0" y1="799.90" x2="316.3" y2="799.90" stroke="#3a3a3a" stroke-width="1"/>
<line x1="383.7" y1="799.90" x2="731.3" y2="799.90" stroke="#3a3a3a" stroke-width="1"/>
<line x1="89.0" y1="816.90" x2="316.3" y2="816.90" stroke="#3a3a3a" stroke-width="1"/>
<line x1="383.7" y1="816.90" x2="731.3" y2="816.90" stroke="#3a3a3a" stroke-width="1"/>
<line x1="89.0" y1="833.90" x2="316.3" y2="833.90" stroke="#3a3a3a" stroke-width="1"/>
<line x1="383.7" y1="833.90" x2="731.3" y2="833.90" stroke="#3a3a3a" stroke-width="1"/>
<line x1="89.0" y1="850.90" x2="316.3" y2="850.90" stroke="#3a3a3a" stroke-width="1"/>
<line x1="383.7" y1="850.90" x2="731.3" y2="850.90" stroke="#3a3a3a" stroke-width="1"/>
<line x1="89.0" y1="867.90" x2="316.3" y2="867.90" stroke="#3a3a3a" stroke-width="1"/>
<line x1="383.7" y1="867.90" x2="731.3" y2="867.90" stroke="#3a3a3a" stroke-width="1"/>
<line x1="89.0" y1="884.90" x2="316.3" y2="884.90" stroke="#3a3a3a" stroke-width="1"/>
<line x1="383.7" y1="884.90" x2="731.3" y2="884.90" stroke="#3a3a3a" stroke-width="1"/>
<line x1="89.0" y1="901.90" x2="316.3" y2="901.90" stroke="#3a3a3a" stroke-width="1"/>
<line x1="383.7" y1="901.90" x2="731.3" y2="901.90" stroke="#3a3a3a" stroke-width="1"/>
<line x1="89.0" y1="918.90" x2="316.3" y2="918.90" stroke="#3a3a3a" stroke-width="1"/>
<line x1="383.7" y1="918.90" x2="731.3" y2="918.90" stroke="#3a3a3a" stroke-width="1"/>
<line x1="89.0" y1="935.90" x2="316.3" y2="935.90" stroke="#3a3a3a" stroke-width="1"/>
<line x1="383.7" y1="935.90" x2="731.3" y2="935.90" stroke="#3a3a3a" stroke-width="1"/>
<line x1="89.0" y1="952.90" x2="316.3" y2="952.90" stroke="#3a3a3a" stroke-width="1"/>
<line x1="383.7" y1="952.90" x2="731.3" y2="952.90" stroke="#3a3a3a" stroke-width="1"/>
<line x1="89.0" y1="969.90" x2="316.3" y2="969.90" stroke="#3a3a3a" stroke-width="1"/>
<line x1="383.7" y1="969.90" x2="731.3" y2="969.90" stroke="#3a3a3a" stroke-width="1"/>
<line x1="160.6" y1="697.9" x2="160.6" y2="986.90" stroke="#3a3a3a" stroke-width="1"/>
<line x1="274.4" y1="697.9" x2="274.4" y2="986.90" stroke="#3a3a3a" stroke-width="1"/>
<line x1="427.3" y1="697.9" x2="427.3" y2="986.90" stroke="#3a3a3a" stroke-width="1"/>
<line x1="470.8" y1="697.9" x2="470.8" y2="986.90" stroke="#3a3a3a" stroke-width="1"/>
<line x1="514.2" y1="697.9" x2="514.2" y2="986.90" stroke="#3a3a3a" stroke-width="1"/>
<line x1="557.6" y1="697.9" x2="557.6" y2="986.90" stroke="#3a3a3a" stroke-width="1"/>
<line x1="601.0" y1="697.9" x2="601.0" y2="986.90" stroke="#3a3a3a" stroke-width="1"/>
<line x1="644.4" y1="697.9" x2="644.4" y2="986.90" stroke="#3a3a3a" stroke-width="1"/>
<line x1="687.8" y1="697.9" x2="687.8" y2="986.90" stroke="#3a3a3a" stroke-width="1"/>
<line x1="232.7" y1="697.9" x2="232.7" y2="986.90" stroke="#222" stroke-width="1.3"/>
<line x1="383.7" y1="697.9" x2="383.7" y2="986.90" stroke="#222" stroke-width="1.3"/>
<line x1="316.3" y1="641.3" x2="316.3" y2="986.90" stroke="#111" stroke-width="1.8"/>
<line x1="232.7" y1="641.3" x2="232.7" y2="697.9" stroke="#2a3a45" stroke-width="1.3"/>
<line x1="89.0" y1="667.6" x2="731.3" y2="667.6" stroke="#2e3e4a" stroke-width="1.4"/>
<line x1="160.6" y1="667.6" x2="160.6" y2="697.9" stroke="#3a4a56" stroke-width="1.1"/>
<line x1="274.4" y1="667.6" x2="274.4" y2="697.9" stroke="#3a4a56" stroke-width="1.1"/>
<line x1="383.7" y1="667.6" x2="383.7" y2="697.9" stroke="#3a4a56" stroke-width="1.1"/>
<line x1="427.3" y1="667.6" x2="427.3" y2="697.9" stroke="#3a4a56" stroke-width="1.1"/>
<line x1="470.8" y1="667.6" x2="470.8" y2="697.9" stroke="#3a4a56" stroke-width="1.1"/>
<line x1="514.2" y1="667.6" x2="514.2" y2="697.9" stroke="#3a4a56" stroke-width="1.1"/>
<line x1="557.6" y1="667.6" x2="557.6" y2="697.9" stroke="#3a4a56" stroke-width="1.1"/>
<line x1="601.0" y1="667.6" x2="601.0" y2="697.9" stroke="#3a4a56" stroke-width="1.1"/>
<line x1="644.4" y1="667.6" x2="644.4" y2="697.9" stroke="#3a4a56" stroke-width="1.1"/>
<line x1="687.8" y1="667.6" x2="687.8" y2="697.9" stroke="#3a4a56" stroke-width="1.1"/>
<line x1="347.5" y1="682.9" x2="731.3" y2="682.9" stroke="#4a5e6c" stroke-width="1.1"/>
<line x1="89.0" y1="697.9" x2="731.3" y2="697.9" stroke="#111" stroke-width="1.8"/>
<rect x="89.0" y="641.3" width="642.3" height="345.60" fill="none" stroke="#111" stroke-width="1.8"/>
<text x="164" y="659.3" font-size="13" font-weight="bold" text-anchor="middle" fill="#111">MODEL</text>
<text x="265.6" y="661" font-size="15" font-weight="bold" fill="#111">P<tspan font-size="9.5" dy="1.2">2</tspan></text>
<text x="454.8" y="660.2" font-size="13" font-weight="bold" fill="#111">DELIVERY</text>
<text x="594.3" y="660.2" font-size="13" font-weight="bold" fill="#111">n</text>
<path d="M603.8,653.6 q3,-2.8 6,0 t6,0 M603.8,657.2 q3,-2.8 6,0 t6,0" fill="none" stroke="#111" stroke-width="1.3"/>
<text x="615.8" y="660.2" font-size="13" font-weight="bold" fill="#111">2850 r/min</text>
<text x="116.6" y="680.8" font-size="10.5" font-weight="bold" fill="#111">1</text>
<path d="M122.6,677.3 q2.35,-2.6 4.7,0 t4.7,0" fill="none" stroke="#111" stroke-width="1.1"/>
<text x="124.8" y="692.2" font-size="10.5" font-weight="bold" text-anchor="middle" fill="#111">220V/240V</text>
<text x="188.8" y="680.8" font-size="10.5" font-weight="bold" fill="#111">3</text>
<path d="M194.8,677.3 q2.35,-2.6 4.7,0 t4.7,0" fill="none" stroke="#111" stroke-width="1.1"/>
<text x="196.7" y="692.2" font-size="10.5" font-weight="bold" text-anchor="middle" fill="#111">380V/415V</text>
<text x="253.4" y="688.5" font-size="13.5" font-weight="bold" text-anchor="middle" fill="#111">kW</text>
<text x="295.3" y="688.5" font-size="13" font-weight="bold" text-anchor="middle" fill="#111">HP</text>
<text x="327.5" y="687.4" font-size="15" font-weight="bold" fill="#111">Q</text>
<text x="351.6" y="679.6" font-size="11" fill="#111">m<tspan font-size="6.5" dy="-4">3</tspan><tspan dy="4">/h</tspan></text>
<text x="351.6" y="694.3" font-size="11" fill="#111">l/min</text>
<text x="336.6" y="847.2" font-size="15" font-weight="bold" fill="#111">H</text><text x="347.2" y="847.0" font-size="9.6" font-weight="bold" fill="#111">(m)</text>
<text transform="scale(0.87,1)" x="463.20" y="679.60" font-size="10.4" fill="#262626">0</text>
<text transform="scale(0.87,1)" x="463.20" y="694.20" font-size="10.4" fill="#262626">0</text>
<text transform="scale(0.87,1)" x="507.11 514.70 519.41" y="679.60" font-size="10.4" fill="#262626">1.8</text>
<text transform="scale(0.87,1)" x="510.18 516.33" y="694.20" font-size="10.4" fill="#262626">30</text>
<text transform="scale(0.87,1)" x="557.05 564.65 569.35" y="679.60" font-size="10.4" fill="#262626">3.6</text>
<text transform="scale(0.87,1)" x="560.13 566.28" y="694.20" font-size="10.4" fill="#262626">60</text>
<text transform="scale(0.87,1)" x="606.94 614.53 619.24" y="679.60" font-size="10.4" fill="#262626">5.4</text>
<text transform="scale(0.87,1)" x="610.01 616.16" y="694.20" font-size="10.4" fill="#262626">90</text>
<text transform="scale(0.87,1)" x="656.82 664.42 669.12" y="679.60" font-size="10.4" fill="#262626">7.2</text>
<text transform="scale(0.87,1)" x="656.82 662.97 669.12" y="694.20" font-size="10.4" fill="#262626">120</text>
<text transform="scale(0.87,1)" x="712.86" y="679.60" font-size="10.4" fill="#262626">9</text>
<text transform="scale(0.87,1)" x="706.71 712.86 719.01" y="694.20" font-size="10.4" fill="#262626">150</text>
<text transform="scale(0.87,1)" x="753.52 759.67 767.26 771.97" y="679.60" font-size="10.4" fill="#262626">10.8</text>
<text transform="scale(0.87,1)" x="756.59 762.74 768.89" y="694.20" font-size="10.4" fill="#262626">180</text>
<text transform="scale(0.87,1)" x="803.46 809.61 817.20 821.91" y="679.60" font-size="10.4" fill="#262626">12.6</text>
<text transform="scale(0.87,1)" x="806.53 812.68 818.83" y="694.20" font-size="10.4" fill="#262626">210</text>
<text transform="scale(0.87,1)" x="115.70 121.27 127.14 132.71 140.30 146.45 154.04 158.75" y="711.10" font-size="10.4" fill="#262626">4SDM10/4</text>
<text transform="scale(0.87,1)" x="201.33 206.91 212.77 219.78 225.93 233.53 238.23" y="711.10" font-size="10.4" fill="#262626">4SD10/4</text>
<text transform="scale(0.87,1)" x="279.32 286.92 291.62 297.77" y="711.10" font-size="10.4" fill="#262626">0.55</text>
<text transform="scale(0.87,1)" x="327.37 334.96 339.67 345.82" y="711.10" font-size="10.4" fill="#262626">0.75</text>
<text transform="scale(0.87,1)" x="460.13 466.28" y="711.10" font-size="10.4" fill="#262626">25</text>
<text transform="scale(0.87,1)" x="510.18 516.33" y="711.10" font-size="10.4" fill="#262626">22</text>
<text transform="scale(0.87,1)" x="560.13 566.28" y="711.10" font-size="10.4" fill="#262626">21</text>
<text transform="scale(0.87,1)" x="610.01 616.16" y="711.10" font-size="10.4" fill="#262626">20</text>
<text transform="scale(0.87,1)" x="659.90 666.05" y="711.10" font-size="10.4" fill="#262626">18</text>
<text transform="scale(0.87,1)" x="709.78 715.93" y="711.10" font-size="10.4" fill="#262626">15</text>
<text transform="scale(0.87,1)" x="759.67 765.82" y="711.10" font-size="10.4" fill="#262626">10</text>
<text transform="scale(0.87,1)" x="812.68" y="711.10" font-size="10.4" fill="#262626">4</text>
<text transform="scale(0.87,1)" x="115.70 121.27 127.14 132.71 140.30 146.45 154.04 158.75" y="728.10" font-size="10.4" fill="#262626">4SDM10/5</text>
<text transform="scale(0.87,1)" x="201.33 206.91 212.77 219.78 225.93 233.53 238.23" y="728.10" font-size="10.4" fill="#262626">4SD10/5</text>
<text transform="scale(0.87,1)" x="279.32 286.92 291.62 297.77" y="728.10" font-size="10.4" fill="#262626">0.75</text>
<text transform="scale(0.87,1)" x="336.59" y="728.10" font-size="10.4" fill="#262626">1</text>
<text transform="scale(0.87,1)" x="460.13 466.28" y="728.10" font-size="10.4" fill="#262626">31</text>
<text transform="scale(0.87,1)" x="510.18 516.33" y="728.10" font-size="10.4" fill="#262626">28</text>
<text transform="scale(0.87,1)" x="560.13 566.28" y="728.10" font-size="10.4" fill="#262626">26</text>
<text transform="scale(0.87,1)" x="610.01 616.16" y="728.10" font-size="10.4" fill="#262626">25</text>
<text transform="scale(0.87,1)" x="659.90 666.05" y="728.10" font-size="10.4" fill="#262626">22</text>
<text transform="scale(0.87,1)" x="709.78 715.93" y="728.10" font-size="10.4" fill="#262626">19</text>
<text transform="scale(0.87,1)" x="759.67 765.82" y="728.10" font-size="10.4" fill="#262626">14</text>
<text transform="scale(0.87,1)" x="812.68" y="728.10" font-size="10.4" fill="#262626">5</text>
<text transform="scale(0.87,1)" x="115.70 121.27 127.14 132.71 140.30 146.45 154.04 158.75" y="745.10" font-size="10.4" fill="#262626">4SDM10/6</text>
<text transform="scale(0.87,1)" x="201.33 206.91 212.77 219.78 225.93 233.53 238.23" y="745.10" font-size="10.4" fill="#262626">4SD10/6</text>
<text transform="scale(0.87,1)" x="279.32 286.92 291.62 297.77" y="745.10" font-size="10.4" fill="#262626">0.92</text>
<text transform="scale(0.87,1)" x="327.37 334.96 339.67 345.82" y="745.10" font-size="10.4" fill="#262626">1.25</text>
<text transform="scale(0.87,1)" x="460.13 466.28" y="745.10" font-size="10.4" fill="#262626">37</text>
<text transform="scale(0.87,1)" x="510.18 516.33" y="745.10" font-size="10.4" fill="#262626">33</text>
<text transform="scale(0.87,1)" x="560.13 566.28" y="745.10" font-size="10.4" fill="#262626">32</text>
<text transform="scale(0.87,1)" x="610.01 616.16" y="745.10" font-size="10.4" fill="#262626">30</text>
<text transform="scale(0.87,1)" x="659.90 666.05" y="745.10" font-size="10.4" fill="#262626">27</text>
<text transform="scale(0.87,1)" x="709.78 715.93" y="745.10" font-size="10.4" fill="#262626">23</text>
<text transform="scale(0.87,1)" x="759.67 765.82" y="745.10" font-size="10.4" fill="#262626">18</text>
<text transform="scale(0.87,1)" x="812.68" y="745.10" font-size="10.4" fill="#262626">6</text>
<text transform="scale(0.87,1)" x="115.70 121.27 127.14 132.71 140.30 146.45 154.04 158.75" y="762.10" font-size="10.4" fill="#262626">4SDM10/7</text>
<text transform="scale(0.87,1)" x="201.33 206.91 212.77 219.78 225.93 233.53 238.23" y="762.10" font-size="10.4" fill="#262626">4SD10/7</text>
<text transform="scale(0.87,1)" x="282.40 289.99 294.70" y="762.10" font-size="10.4" fill="#262626">1.1</text>
<text transform="scale(0.87,1)" x="330.44 338.04 342.74" y="762.10" font-size="10.4" fill="#262626">1.5</text>
<text transform="scale(0.87,1)" x="460.13 466.28" y="762.10" font-size="10.4" fill="#262626">44</text>
<text transform="scale(0.87,1)" x="510.18 516.33" y="762.10" font-size="10.4" fill="#262626">39</text>
<text transform="scale(0.87,1)" x="560.13 566.28" y="762.10" font-size="10.4" fill="#262626">37</text>
<text transform="scale(0.87,1)" x="610.01 616.16" y="762.10" font-size="10.4" fill="#262626">35</text>
<text transform="scale(0.87,1)" x="659.90 666.05" y="762.10" font-size="10.4" fill="#262626">31</text>
<text transform="scale(0.87,1)" x="709.78 715.93" y="762.10" font-size="10.4" fill="#262626">27</text>
<text transform="scale(0.87,1)" x="759.67 765.82" y="762.10" font-size="10.4" fill="#262626">21</text>
<text transform="scale(0.87,1)" x="812.68" y="762.10" font-size="10.4" fill="#262626">7</text>
<text transform="scale(0.87,1)" x="115.70 121.27 127.14 132.71 140.30 146.45 154.04 158.75" y="779.10" font-size="10.4" fill="#262626">4SDM10/8</text>
<text transform="scale(0.87,1)" x="201.33 206.91 212.77 219.78 225.93 233.53 238.23" y="779.10" font-size="10.4" fill="#262626">4SD10/8</text>
<text transform="scale(0.87,1)" x="282.40 289.99 294.70" y="779.10" font-size="10.4" fill="#262626">1.3</text>
<text transform="scale(0.87,1)" x="327.37 334.96 339.67 345.82" y="779.10" font-size="10.4" fill="#262626">1.75</text>
<text transform="scale(0.87,1)" x="460.13 466.28" y="779.10" font-size="10.4" fill="#262626">50</text>
<text transform="scale(0.87,1)" x="510.18 516.33" y="779.10" font-size="10.4" fill="#262626">45</text>
<text transform="scale(0.87,1)" x="560.13 566.28" y="779.10" font-size="10.4" fill="#262626">42</text>
<text transform="scale(0.87,1)" x="610.01 616.16" y="779.10" font-size="10.4" fill="#262626">40</text>
<text transform="scale(0.87,1)" x="659.90 666.05" y="779.10" font-size="10.4" fill="#262626">36</text>
<text transform="scale(0.87,1)" x="709.78 715.93" y="779.10" font-size="10.4" fill="#262626">30</text>
<text transform="scale(0.87,1)" x="759.67 765.82" y="779.10" font-size="10.4" fill="#262626">24</text>
<text transform="scale(0.87,1)" x="812.68" y="779.10" font-size="10.4" fill="#262626">8</text>
<text transform="scale(0.87,1)" x="115.70 121.27 127.14 132.71 140.30 146.45 154.04 158.75" y="796.10" font-size="10.4" fill="#262626">4SDM10/9</text>
<text transform="scale(0.87,1)" x="201.33 206.91 212.77 219.78 225.93 233.53 238.23" y="796.10" font-size="10.4" fill="#262626">4SD10/9</text>
<text transform="scale(0.87,1)" x="282.40 289.99 294.70" y="796.10" font-size="10.4" fill="#262626">1.5</text>
<text transform="scale(0.87,1)" x="336.59" y="796.10" font-size="10.4" fill="#262626">2</text>
<text transform="scale(0.87,1)" x="460.13 466.28" y="796.10" font-size="10.4" fill="#262626">56</text>
<text transform="scale(0.87,1)" x="510.18 516.33" y="796.10" font-size="10.4" fill="#262626">50</text>
<text transform="scale(0.87,1)" x="560.13 566.28" y="796.10" font-size="10.4" fill="#262626">47</text>
<text transform="scale(0.87,1)" x="610.01 616.16" y="796.10" font-size="10.4" fill="#262626">45</text>
<text transform="scale(0.87,1)" x="659.90 666.05" y="796.10" font-size="10.4" fill="#262626">40</text>
<text transform="scale(0.87,1)" x="709.78 715.93" y="796.10" font-size="10.4" fill="#262626">36</text>
<text transform="scale(0.87,1)" x="759.67 765.82" y="796.10" font-size="10.4" fill="#262626">27</text>
<text transform="scale(0.87,1)" x="812.68" y="796.10" font-size="10.4" fill="#262626">9</text>
<text transform="scale(0.87,1)" x="115.70 121.27 127.14 132.71 140.30 146.45 154.04 158.75 164.90" y="813.10" font-size="10.4" fill="#262626">4SDM10/10</text>
<text transform="scale(0.87,1)" x="201.33 206.91 212.77 219.78 225.93 233.53 238.23 244.38" y="813.10" font-size="10.4" fill="#262626">4SD10/10</text>
<text transform="scale(0.87,1)" x="282.40 289.99 294.70" y="813.10" font-size="10.4" fill="#262626">1.5</text>
<text transform="scale(0.87,1)" x="336.59" y="813.10" font-size="10.4" fill="#262626">2</text>
<text transform="scale(0.87,1)" x="460.13 466.28" y="813.10" font-size="10.4" fill="#262626">62</text>
<text transform="scale(0.87,1)" x="510.18 516.33" y="813.10" font-size="10.4" fill="#262626">56</text>
<text transform="scale(0.87,1)" x="560.13 566.28" y="813.10" font-size="10.4" fill="#262626">53</text>
<text transform="scale(0.87,1)" x="610.01 616.16" y="813.10" font-size="10.4" fill="#262626">50</text>
<text transform="scale(0.87,1)" x="659.90 666.05" y="813.10" font-size="10.4" fill="#262626">44</text>
<text transform="scale(0.87,1)" x="709.78 715.93" y="813.10" font-size="10.4" fill="#262626">40</text>
<text transform="scale(0.87,1)" x="759.67 765.82" y="813.10" font-size="10.4" fill="#262626">31</text>
<text transform="scale(0.87,1)" x="809.61 815.76" y="813.10" font-size="10.4" fill="#262626">10</text>
<text transform="scale(0.87,1)" x="115.70 121.27 127.14 132.71 140.30 146.45 154.04 158.75 164.90" y="830.10" font-size="10.4" fill="#262626">4SDM10/12</text>
<text transform="scale(0.87,1)" x="201.33 206.91 212.77 219.78 225.93 233.53 238.23 244.38" y="830.10" font-size="10.4" fill="#262626">4SD10/12</text>
<text transform="scale(0.87,1)" x="282.40 289.99 294.70" y="830.10" font-size="10.4" fill="#262626">1.8</text>
<text transform="scale(0.87,1)" x="330.44 338.04 342.74" y="830.10" font-size="10.4" fill="#262626">2.5</text>
<text transform="scale(0.87,1)" x="460.13 466.28" y="830.10" font-size="10.4" fill="#262626">76</text>
<text transform="scale(0.87,1)" x="510.18 516.33" y="830.10" font-size="10.4" fill="#262626">67</text>
<text transform="scale(0.87,1)" x="560.13 566.28" y="830.10" font-size="10.4" fill="#262626">63</text>
<text transform="scale(0.87,1)" x="610.01 616.16" y="830.10" font-size="10.4" fill="#262626">59</text>
<text transform="scale(0.87,1)" x="659.90 666.05" y="830.10" font-size="10.4" fill="#262626">53</text>
<text transform="scale(0.87,1)" x="709.78 715.93" y="830.10" font-size="10.4" fill="#262626">49</text>
<text transform="scale(0.87,1)" x="759.67 765.82" y="830.10" font-size="10.4" fill="#262626">38</text>
<text transform="scale(0.87,1)" x="809.61 815.76" y="830.10" font-size="10.4" fill="#262626">11</text>
<text transform="scale(0.87,1)" x="115.70 121.27 127.14 132.71 140.30 146.45 154.04 158.75 164.90" y="847.10" font-size="10.4" fill="#262626">4SDM10/14</text>
<text transform="scale(0.87,1)" x="201.33 206.91 212.77 219.78 225.93 233.53 238.23 244.38" y="847.10" font-size="10.4" fill="#262626">4SD10/14</text>
<text transform="scale(0.87,1)" x="282.40 289.99 294.70" y="847.10" font-size="10.4" fill="#262626">2.2</text>
<text transform="scale(0.87,1)" x="336.59" y="847.10" font-size="10.4" fill="#262626">3</text>
<text transform="scale(0.87,1)" x="460.13 466.28" y="847.10" font-size="10.4" fill="#262626">87</text>
<text transform="scale(0.87,1)" x="510.18 516.33" y="847.10" font-size="10.4" fill="#262626">78</text>
<text transform="scale(0.87,1)" x="560.13 566.28" y="847.10" font-size="10.4" fill="#262626">74</text>
<text transform="scale(0.87,1)" x="610.01 616.16" y="847.10" font-size="10.4" fill="#262626">69</text>
<text transform="scale(0.87,1)" x="659.90 666.05" y="847.10" font-size="10.4" fill="#262626">62</text>
<text transform="scale(0.87,1)" x="709.78 715.93" y="847.10" font-size="10.4" fill="#262626">57</text>
<text transform="scale(0.87,1)" x="759.67 765.82" y="847.10" font-size="10.4" fill="#262626">44</text>
<text transform="scale(0.87,1)" x="809.61 815.76" y="847.10" font-size="10.4" fill="#262626">12</text>
<text transform="scale(0.87,1)" x="115.70 121.27 127.14 132.71 140.30 146.45 154.04 158.75 164.90" y="864.10" font-size="10.4" fill="#262626">4SDM10/16</text>
<text transform="scale(0.87,1)" x="201.33 206.91 212.77 219.78 225.93 233.53 238.23 244.38" y="864.10" font-size="10.4" fill="#262626">4SD10/16</text>
<text transform="scale(0.87,1)" x="282.40 289.99 294.70" y="864.10" font-size="10.4" fill="#262626">2.6</text>
<text transform="scale(0.87,1)" x="330.44 338.04 342.74" y="864.10" font-size="10.4" fill="#262626">3.5</text>
<text transform="scale(0.87,1)" x="460.13 466.28" y="864.10" font-size="10.4" fill="#262626">99</text>
<text transform="scale(0.87,1)" x="510.18 516.33" y="864.10" font-size="10.4" fill="#262626">89</text>
<text transform="scale(0.87,1)" x="560.13 566.28" y="864.10" font-size="10.4" fill="#262626">84</text>
<text transform="scale(0.87,1)" x="610.01 616.16" y="864.10" font-size="10.4" fill="#262626">79</text>
<text transform="scale(0.87,1)" x="659.90 666.05" y="864.10" font-size="10.4" fill="#262626">71</text>
<text transform="scale(0.87,1)" x="709.78 715.93" y="864.10" font-size="10.4" fill="#262626">65</text>
<text transform="scale(0.87,1)" x="759.67 765.82" y="864.10" font-size="10.4" fill="#262626">50</text>
<text transform="scale(0.87,1)" x="809.61 815.76" y="864.10" font-size="10.4" fill="#262626">13</text>
<rect x="121.8" y="877.2" width="6" height="1.1" fill="#1a1a1a"/>
<text transform="scale(0.87,1)" x="201.33 206.91 212.77 219.78 225.93 233.53 238.23 244.38" y="881.10" font-size="10.4" fill="#262626">4SD10/18</text>
<text transform="scale(0.87,1)" x="288.55" y="881.10" font-size="10.4" fill="#262626">3</text>
<text transform="scale(0.87,1)" x="336.59" y="881.10" font-size="10.4" fill="#262626">4</text>
<text transform="scale(0.87,1)" x="457.05 463.20 469.35" y="881.10" font-size="10.4" fill="#262626">112</text>
<text transform="scale(0.87,1)" x="507.11 513.26 519.41" y="881.10" font-size="10.4" fill="#262626">101</text>
<text transform="scale(0.87,1)" x="560.13 566.28" y="881.10" font-size="10.4" fill="#262626">95</text>
<text transform="scale(0.87,1)" x="610.01 616.16" y="881.10" font-size="10.4" fill="#262626">89</text>
<text transform="scale(0.87,1)" x="659.90 666.05" y="881.10" font-size="10.4" fill="#262626">80</text>
<text transform="scale(0.87,1)" x="709.78 715.93" y="881.10" font-size="10.4" fill="#262626">74</text>
<text transform="scale(0.87,1)" x="759.67 765.82" y="881.10" font-size="10.4" fill="#262626">57</text>
<text transform="scale(0.87,1)" x="809.61 815.76" y="881.10" font-size="10.4" fill="#262626">14</text>
<rect x="121.8" y="894.2" width="6" height="1.1" fill="#1a1a1a"/>
<text transform="scale(0.87,1)" x="201.33 206.91 212.77 219.78 225.93 233.53 238.23 244.38" y="898.10" font-size="10.4" fill="#262626">4SD10/20</text>
<text transform="scale(0.87,1)" x="282.40 289.99 294.70" y="898.10" font-size="10.4" fill="#262626">3.7</text>
<text transform="scale(0.87,1)" x="336.59" y="898.10" font-size="10.4" fill="#262626">5</text>
<text transform="scale(0.87,1)" x="457.05 463.20 469.35" y="898.10" font-size="10.4" fill="#262626">124</text>
<text transform="scale(0.87,1)" x="507.11 513.26 519.41" y="898.10" font-size="10.4" fill="#262626">111</text>
<text transform="scale(0.87,1)" x="557.05 563.20 569.35" y="898.10" font-size="10.4" fill="#262626">105</text>
<text transform="scale(0.87,1)" x="610.01 616.16" y="898.10" font-size="10.4" fill="#262626">99</text>
<text transform="scale(0.87,1)" x="659.90 666.05" y="898.10" font-size="10.4" fill="#262626">89</text>
<text transform="scale(0.87,1)" x="709.78 715.93" y="898.10" font-size="10.4" fill="#262626">81</text>
<text transform="scale(0.87,1)" x="759.67 765.82" y="898.10" font-size="10.4" fill="#262626">63</text>
<text transform="scale(0.87,1)" x="809.61 815.76" y="898.10" font-size="10.4" fill="#262626">16</text>
<rect x="121.8" y="911.2" width="6" height="1.1" fill="#1a1a1a"/>
<text transform="scale(0.87,1)" x="201.33 206.91 212.77 219.78 225.93 233.53 238.23 244.38" y="915.10" font-size="10.4" fill="#262626">4SD10/22</text>
<text transform="scale(0.87,1)" x="288.55" y="915.10" font-size="10.4" fill="#262626">4</text>
<text transform="scale(0.87,1)" x="330.44 338.04 342.74" y="915.10" font-size="10.4" fill="#262626">5.5</text>
<text transform="scale(0.87,1)" x="457.05 463.20 469.35" y="915.10" font-size="10.4" fill="#262626">137</text>
<text transform="scale(0.87,1)" x="507.11 513.26 519.41" y="915.10" font-size="10.4" fill="#262626">122</text>
<text transform="scale(0.87,1)" x="557.05 563.20 569.35" y="915.10" font-size="10.4" fill="#262626">116</text>
<text transform="scale(0.87,1)" x="606.94 613.09 619.24" y="915.10" font-size="10.4" fill="#262626">109</text>
<text transform="scale(0.87,1)" x="659.90 666.05" y="915.10" font-size="10.4" fill="#262626">97</text>
<text transform="scale(0.87,1)" x="709.78 715.93" y="915.10" font-size="10.4" fill="#262626">90</text>
<text transform="scale(0.87,1)" x="759.67 765.82" y="915.10" font-size="10.4" fill="#262626">70</text>
<text transform="scale(0.87,1)" x="809.61 815.76" y="915.10" font-size="10.4" fill="#262626">17</text>
<rect x="121.8" y="928.2" width="6" height="1.1" fill="#1a1a1a"/>
<text transform="scale(0.87,1)" x="201.33 206.91 212.77 219.78 225.93 233.53 238.23 244.38" y="932.10" font-size="10.4" fill="#262626">4SD10/25</text>
<text transform="scale(0.87,1)" x="288.55" y="932.10" font-size="10.4" fill="#262626">5</text>
<text transform="scale(0.87,1)" x="336.59" y="932.10" font-size="10.4" fill="#262626">7</text>
<text transform="scale(0.87,1)" x="457.05 463.20 469.35" y="932.10" font-size="10.4" fill="#262626">155</text>
<text transform="scale(0.87,1)" x="507.11 513.26 519.41" y="932.10" font-size="10.4" fill="#262626">139</text>
<text transform="scale(0.87,1)" x="557.05 563.20 569.35" y="932.10" font-size="10.4" fill="#262626">132</text>
<text transform="scale(0.87,1)" x="606.94 613.09 619.24" y="932.10" font-size="10.4" fill="#262626">123</text>
<text transform="scale(0.87,1)" x="656.82 662.97 669.12" y="932.10" font-size="10.4" fill="#262626">111</text>
<text transform="scale(0.87,1)" x="706.71 712.86 719.01" y="932.10" font-size="10.4" fill="#262626">102</text>
<text transform="scale(0.87,1)" x="759.67 765.82" y="932.10" font-size="10.4" fill="#262626">80</text>
<text transform="scale(0.87,1)" x="809.61 815.76" y="932.10" font-size="10.4" fill="#262626">20</text>
<rect x="121.8" y="945.2" width="6" height="1.1" fill="#1a1a1a"/>
<text transform="scale(0.87,1)" x="201.33 206.91 212.77 219.78 225.93 233.53 238.23 244.38" y="949.10" font-size="10.4" fill="#262626">4SD10/28</text>
<text transform="scale(0.87,1)" x="282.40 289.99 294.70" y="949.10" font-size="10.4" fill="#262626">5.5</text>
<text transform="scale(0.87,1)" x="330.44 338.04 342.74" y="949.10" font-size="10.4" fill="#262626">7.5</text>
<text transform="scale(0.87,1)" x="457.05 463.20 469.35" y="949.10" font-size="10.4" fill="#262626">174</text>
<text transform="scale(0.87,1)" x="507.11 513.26 519.41" y="949.10" font-size="10.4" fill="#262626">155</text>
<text transform="scale(0.87,1)" x="557.05 563.20 569.35" y="949.10" font-size="10.4" fill="#262626">147</text>
<text transform="scale(0.87,1)" x="606.94 613.09 619.24" y="949.10" font-size="10.4" fill="#262626">138</text>
<text transform="scale(0.87,1)" x="656.82 662.97 669.12" y="949.10" font-size="10.4" fill="#262626">124</text>
<text transform="scale(0.87,1)" x="706.71 712.86 719.01" y="949.10" font-size="10.4" fill="#262626">115</text>
<text transform="scale(0.87,1)" x="759.67 765.82" y="949.10" font-size="10.4" fill="#262626">89</text>
<text transform="scale(0.87,1)" x="809.61 815.76" y="949.10" font-size="10.4" fill="#262626">22</text>
<rect x="121.8" y="962.2" width="6" height="1.1" fill="#1a1a1a"/>
<text transform="scale(0.87,1)" x="201.33 206.91 212.77 219.78 225.93 233.53 238.23 244.38" y="966.10" font-size="10.4" fill="#262626">4SD10/32</text>
<text transform="scale(0.87,1)" x="282.40 289.99 294.70" y="966.10" font-size="10.4" fill="#262626">6.8</text>
<text transform="scale(0.87,1)" x="336.59" y="966.10" font-size="10.4" fill="#262626">9</text>
<text transform="scale(0.87,1)" x="457.05 463.20 469.35" y="966.10" font-size="10.4" fill="#262626">198</text>
<text transform="scale(0.87,1)" x="507.11 513.26 519.41" y="966.10" font-size="10.4" fill="#262626">177</text>
<text transform="scale(0.87,1)" x="557.05 563.20 569.35" y="966.10" font-size="10.4" fill="#262626">168</text>
<text transform="scale(0.87,1)" x="606.94 613.09 619.24" y="966.10" font-size="10.4" fill="#262626">158</text>
<text transform="scale(0.87,1)" x="656.82 662.97 669.12" y="966.10" font-size="10.4" fill="#262626">141</text>
<text transform="scale(0.87,1)" x="706.71 712.86 719.01" y="966.10" font-size="10.4" fill="#262626">130</text>
<text transform="scale(0.87,1)" x="756.59 762.74 768.89" y="966.10" font-size="10.4" fill="#262626">101</text>
<text transform="scale(0.87,1)" x="809.61 815.76" y="966.10" font-size="10.4" fill="#262626">25</text>
<rect x="121.8" y="979.2" width="6" height="1.1" fill="#1a1a1a"/>
<text transform="scale(0.87,1)" x="201.33 206.91 212.77 219.78 225.93 233.53 238.23 244.38" y="983.10" font-size="10.4" fill="#262626">4SD10/36</text>
<text transform="scale(0.87,1)" x="282.40 289.99 294.70" y="983.10" font-size="10.4" fill="#262626">7.5</text>
<text transform="scale(0.87,1)" x="333.52 339.67" y="983.10" font-size="10.4" fill="#262626">10</text>
<text transform="scale(0.87,1)" x="457.05 463.20 469.35" y="983.10" font-size="10.4" fill="#262626">224</text>
<text transform="scale(0.87,1)" x="507.11 513.26 519.41" y="983.10" font-size="10.4" fill="#262626">200</text>
<text transform="scale(0.87,1)" x="557.05 563.20 569.35" y="983.10" font-size="10.4" fill="#262626">189</text>
<text transform="scale(0.87,1)" x="606.94 613.09 619.24" y="983.10" font-size="10.4" fill="#262626">175</text>
<text transform="scale(0.87,1)" x="656.82 662.97 669.12" y="983.10" font-size="10.4" fill="#262626">159</text>
<text transform="scale(0.87,1)" x="706.71 712.86 719.01" y="983.10" font-size="10.4" fill="#262626">147</text>
<text transform="scale(0.87,1)" x="756.59 762.74 768.89" y="983.10" font-size="10.4" fill="#262626">114</text>
<text transform="scale(0.87,1)" x="809.61 815.76" y="983.10" font-size="10.4" fill="#262626">28</text>
<circle cx="90.2" cy="997" r="1.6" fill="#111"/>
<text x="97" y="999.3" font-size="7.85" fill="#222">In the list:<tspan font-weight="bold">M</tspan><tspan font-size="5.5" font-weight="bold">(S)</tspan> is single phase motor,<tspan font-weight="bold">M</tspan><tspan font-size="5.5">(T)</tspan> is three phase motor.</text>
<circle cx="325.5" cy="997" r="1.6" fill="#111"/>
<text x="332" y="999.3" font-size="7.85" fill="#222">In the list:** represents the pump name.</text>
<circle cx="90.2" cy="1010" r="1.6" fill="#111"/>
<text x="97" y="1012.3" font-size="7.85" fill="#222">In the list:<tspan font-weight="bold">T</tspan><tspan font-size="5.5" font-weight="bold">(S)</tspan> is single phase motor,<tspan font-weight="bold">T</tspan><tspan font-size="5.5">(T)</tspan> is three phase motor.</text>
<text x="732.8" y="1049.8" font-size="13" font-weight="bold" text-anchor="end" fill="#8c8c8c">24</text>
</svg>
</body></html>
